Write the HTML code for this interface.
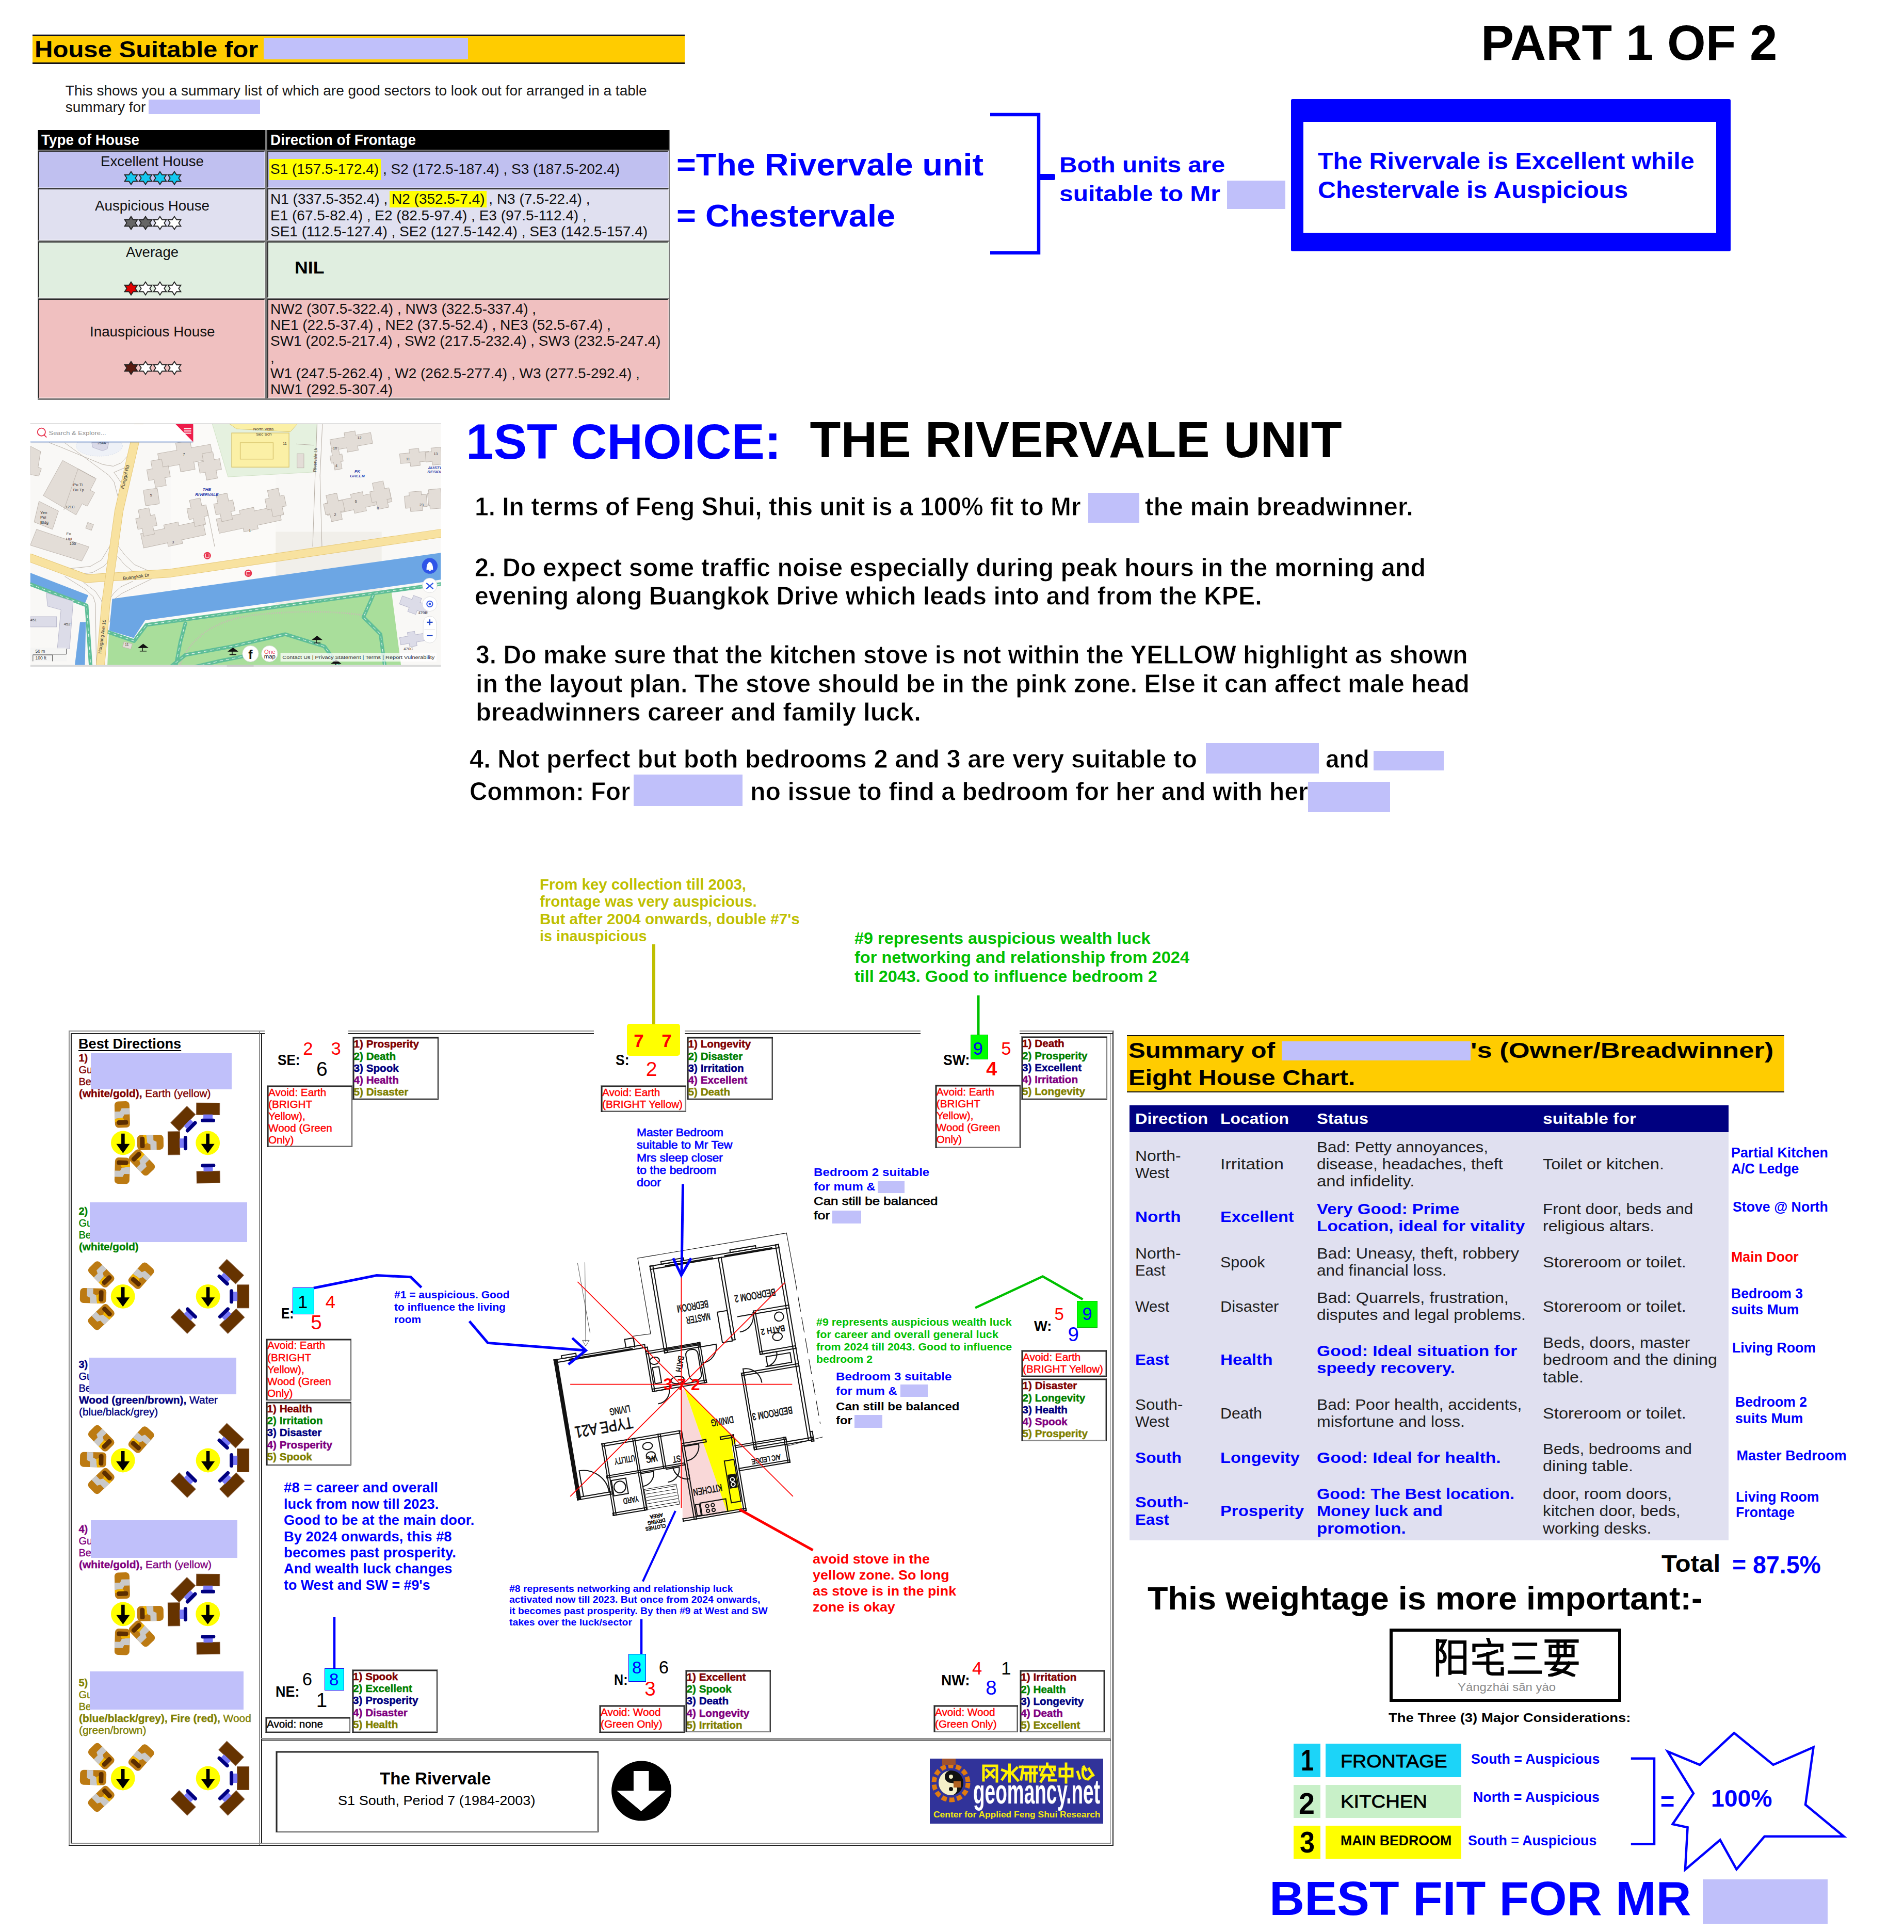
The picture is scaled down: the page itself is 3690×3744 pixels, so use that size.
<!DOCTYPE html>
<html><head><meta charset="utf-8"><title>Feng Shui Report</title><style>
*{margin:0;padding:0;box-sizing:border-box}
html,body{width:3690px;height:3744px;overflow:hidden;background:#fff}
body{position:relative;font-family:"Liberation Sans",sans-serif}
.t{position:absolute;white-space:nowrap}
.b{position:absolute}
</style></head><body>
<div class="b" style="left:62.5px;top:66.5px;width:1264.5px;height:57.8px;background:#FFCC00;border-top:3.5px solid #10101c;border-bottom:3.3px solid #10101c;"></div>
<div class="t" id="t0" style="left:67.3px;top:74.26px;font-size:44.7px;line-height:44.7px;color:#000;font-weight:bold;transform:scaleX(1.0978);transform-origin:0 0;">House Suitable for</div>
<div class="b" style="left:511px;top:73.5px;width:395.6px;height:41.5px;background:#C0C0FA;"></div>
<div class="t" id="t1" style="left:126.8px;top:162px;font-size:28px;line-height:28px;color:#1a1a1a;">This shows you a summary list of which are good sectors to look out for arranged in a table</div>
<div class="t" id="t2" style="left:126.8px;top:193.9px;font-size:28px;line-height:28px;color:#1a1a1a;">summary for</div>
<div class="b" style="left:287.9px;top:193px;width:215.8px;height:27.6px;background:#C0C0FA;"></div>
<div class="b" style="left:72.7px;top:251.6px;width:1225px;height:523.4px;background:#7a7a7a;"></div>
<div class="b" style="left:74.2px;top:252.2px;width:440.3px;height:37.4px;background:#000;"></div>
<div class="b" style="left:517.5px;top:252.2px;width:778.7px;height:37.4px;background:#000;"></div>
<div class="b" style="left:74.2px;top:292.2px;width:440.3px;height:71.4px;background:#C0C0F0;border-top:2px solid #2c2c2c;border-left:2px solid #2c2c2c;border-bottom:2.5px solid rgba(255,255,255,.35);border-right:2px solid rgba(255,255,255,.35);"></div>
<div class="b" style="left:517.5px;top:292.2px;width:778.7px;height:71.4px;background:#C0C0F0;border-top:2px solid #2c2c2c;border-left:2px solid #2c2c2c;border-bottom:2.5px solid rgba(255,255,255,.35);border-right:2px solid rgba(255,255,255,.35);"></div>
<div class="b" style="left:74.2px;top:365.4px;width:440.3px;height:101.1px;background:#E0E0F0;border-top:2px solid #2c2c2c;border-left:2px solid #2c2c2c;border-bottom:2.5px solid rgba(255,255,255,.35);border-right:2px solid rgba(255,255,255,.35);"></div>
<div class="b" style="left:517.5px;top:365.4px;width:778.7px;height:101.1px;background:#E0E0F0;border-top:2px solid #2c2c2c;border-left:2px solid #2c2c2c;border-bottom:2.5px solid rgba(255,255,255,.35);border-right:2px solid rgba(255,255,255,.35);"></div>
<div class="b" style="left:74.2px;top:468.3px;width:440.3px;height:109.2px;background:#E0EEE0;border-top:2px solid #2c2c2c;border-left:2px solid #2c2c2c;border-bottom:2.5px solid rgba(255,255,255,.35);border-right:2px solid rgba(255,255,255,.35);"></div>
<div class="b" style="left:517.5px;top:468.3px;width:778.7px;height:109.2px;background:#E0EEE0;border-top:2px solid #2c2c2c;border-left:2px solid #2c2c2c;border-bottom:2.5px solid rgba(255,255,255,.35);border-right:2px solid rgba(255,255,255,.35);"></div>
<div class="b" style="left:74.2px;top:579.3px;width:440.3px;height:193.2px;background:#F0C0C0;border-top:2px solid #2c2c2c;border-left:2px solid #2c2c2c;border-bottom:2.5px solid rgba(255,255,255,.35);border-right:2px solid rgba(255,255,255,.35);"></div>
<div class="b" style="left:517.5px;top:579.3px;width:778.7px;height:193.2px;background:#F0C0C0;border-top:2px solid #2c2c2c;border-left:2px solid #2c2c2c;border-bottom:2.5px solid rgba(255,255,255,.35);border-right:2px solid rgba(255,255,255,.35);"></div>
<div class="t" id="t3" style="left:80px;top:256.11px;font-size:30px;line-height:30px;color:#fff;font-weight:bold;transform:scaleX(0.9292);transform-origin:0 0;">Type of House</div>
<div class="t" id="t4" style="left:524px;top:256.11px;font-size:30px;line-height:30px;color:#fff;font-weight:bold;transform:scaleX(0.9296);transform-origin:0 0;">Direction of Frontage</div>
<div class="t" id="t5" style="left:195px;top:298.8px;font-size:28px;line-height:28px;color:#111;transform:scaleX(0.9884);transform-origin:0 0;">Excellent House</div>
<div class="t" id="t6" style="left:184px;top:385.3px;font-size:28px;line-height:28px;color:#111;transform:scaleX(0.9905);transform-origin:0 0;">Auspicious House</div>
<div class="t" id="t7" style="left:244px;top:474.8px;font-size:28px;line-height:28px;color:#111;transform:scaleX(0.9827);transform-origin:0 0;">Average</div>
<div class="t" id="t8" style="left:173.75px;top:628.8px;font-size:28px;line-height:28px;color:#111;transform:scaleX(0.9923);transform-origin:0 0;">Inauspicious House</div>
<svg class="b" style="left:230px;top:330px;transform:scaleX(1.0);" width="160" height="30" viewBox="0 0 160 30"><polygon points="24.00,2.50 28.15,8.75 36.45,8.75 32.29,15.00 36.45,21.25 28.15,21.25 24.00,27.50 19.85,21.25 11.55,21.25 15.71,15.00 11.55,8.75 19.85,8.75" fill="#14C8F0" stroke="#222" stroke-width="1.8" stroke-linejoin="miter"/><polygon points="52.00,2.50 56.15,8.75 64.45,8.75 60.29,15.00 64.45,21.25 56.15,21.25 52.00,27.50 47.85,21.25 39.55,21.25 43.71,15.00 39.55,8.75 47.85,8.75" fill="#14C8F0" stroke="#222" stroke-width="1.8" stroke-linejoin="miter"/><polygon points="80.00,2.50 84.15,8.75 92.45,8.75 88.29,15.00 92.45,21.25 84.15,21.25 80.00,27.50 75.85,21.25 67.55,21.25 71.71,15.00 67.55,8.75 75.85,8.75" fill="#14C8F0" stroke="#222" stroke-width="1.8" stroke-linejoin="miter"/><polygon points="108.00,2.50 112.15,8.75 120.45,8.75 116.29,15.00 120.45,21.25 112.15,21.25 108.00,27.50 103.85,21.25 95.55,21.25 99.71,15.00 95.55,8.75 103.85,8.75" fill="#14C8F0" stroke="#222" stroke-width="1.8" stroke-linejoin="miter"/></svg>
<svg class="b" style="left:230px;top:417px;transform:scaleX(1.0);" width="160" height="30" viewBox="0 0 160 30"><polygon points="24.00,2.50 28.15,8.75 36.45,8.75 32.29,15.00 36.45,21.25 28.15,21.25 24.00,27.50 19.85,21.25 11.55,21.25 15.71,15.00 11.55,8.75 19.85,8.75" fill="#666" stroke="#222" stroke-width="1.8" stroke-linejoin="miter"/><polygon points="52.00,2.50 56.15,8.75 64.45,8.75 60.29,15.00 64.45,21.25 56.15,21.25 52.00,27.50 47.85,21.25 39.55,21.25 43.71,15.00 39.55,8.75 47.85,8.75" fill="#666" stroke="#222" stroke-width="1.8" stroke-linejoin="miter"/><polygon points="80.00,2.50 84.15,8.75 92.45,8.75 88.29,15.00 92.45,21.25 84.15,21.25 80.00,27.50 75.85,21.25 67.55,21.25 71.71,15.00 67.55,8.75 75.85,8.75" fill="#fff" stroke="#222" stroke-width="1.8" stroke-linejoin="miter"/><polygon points="108.00,2.50 112.15,8.75 120.45,8.75 116.29,15.00 120.45,21.25 112.15,21.25 108.00,27.50 103.85,21.25 95.55,21.25 99.71,15.00 95.55,8.75 103.85,8.75" fill="#fff" stroke="#222" stroke-width="1.8" stroke-linejoin="miter"/></svg>
<svg class="b" style="left:230px;top:544px;transform:scaleX(1.0);" width="160" height="30" viewBox="0 0 160 30"><polygon points="24.00,2.50 28.15,8.75 36.45,8.75 32.29,15.00 36.45,21.25 28.15,21.25 24.00,27.50 19.85,21.25 11.55,21.25 15.71,15.00 11.55,8.75 19.85,8.75" fill="#E00000" stroke="#222" stroke-width="1.8" stroke-linejoin="miter"/><polygon points="52.00,2.50 56.15,8.75 64.45,8.75 60.29,15.00 64.45,21.25 56.15,21.25 52.00,27.50 47.85,21.25 39.55,21.25 43.71,15.00 39.55,8.75 47.85,8.75" fill="#fff" stroke="#222" stroke-width="1.8" stroke-linejoin="miter"/><polygon points="80.00,2.50 84.15,8.75 92.45,8.75 88.29,15.00 92.45,21.25 84.15,21.25 80.00,27.50 75.85,21.25 67.55,21.25 71.71,15.00 67.55,8.75 75.85,8.75" fill="#fff" stroke="#222" stroke-width="1.8" stroke-linejoin="miter"/><polygon points="108.00,2.50 112.15,8.75 120.45,8.75 116.29,15.00 120.45,21.25 112.15,21.25 108.00,27.50 103.85,21.25 95.55,21.25 99.71,15.00 95.55,8.75 103.85,8.75" fill="#fff" stroke="#222" stroke-width="1.8" stroke-linejoin="miter"/></svg>
<svg class="b" style="left:230px;top:698px;transform:scaleX(1.0);" width="160" height="30" viewBox="0 0 160 30"><polygon points="24.00,2.50 28.15,8.75 36.45,8.75 32.29,15.00 36.45,21.25 28.15,21.25 24.00,27.50 19.85,21.25 11.55,21.25 15.71,15.00 11.55,8.75 19.85,8.75" fill="#5a1a10" stroke="#222" stroke-width="1.8" stroke-linejoin="miter"/><polygon points="52.00,2.50 56.15,8.75 64.45,8.75 60.29,15.00 64.45,21.25 56.15,21.25 52.00,27.50 47.85,21.25 39.55,21.25 43.71,15.00 39.55,8.75 47.85,8.75" fill="#fff" stroke="#222" stroke-width="1.8" stroke-linejoin="miter"/><polygon points="80.00,2.50 84.15,8.75 92.45,8.75 88.29,15.00 92.45,21.25 84.15,21.25 80.00,27.50 75.85,21.25 67.55,21.25 71.71,15.00 67.55,8.75 75.85,8.75" fill="#fff" stroke="#222" stroke-width="1.8" stroke-linejoin="miter"/><polygon points="108.00,2.50 112.15,8.75 120.45,8.75 116.29,15.00 120.45,21.25 112.15,21.25 108.00,27.50 103.85,21.25 95.55,21.25 99.71,15.00 95.55,8.75 103.85,8.75" fill="#fff" stroke="#222" stroke-width="1.8" stroke-linejoin="miter"/></svg>
<div class="b" style="left:522px;top:307.5px;width:216px;height:41.5px;background:#FFFF00;"></div>
<div class="b" style="left:755px;top:370px;width:187.5px;height:31.5px;background:#FFFF00;"></div>
<div class="t" id="t9" style="left:524px;top:313.8px;font-size:28px;line-height:28px;color:#111;">S1 (157.5-172.4) , S2 (172.5-187.4) , S3 (187.5-202.4)</div>
<div class="t" id="t10" style="left:524px;top:372.3px;font-size:28px;line-height:28px;color:#111;">N1 (337.5-352.4) , N2 (352.5-7.4) , N3 (7.5-22.4) ,</div>
<div class="t" id="t11" style="left:524px;top:403.8px;font-size:28px;line-height:28px;color:#111;">E1 (67.5-82.4) , E2 (82.5-97.4) , E3 (97.5-112.4) ,</div>
<div class="t" id="t12" style="left:524px;top:434.8px;font-size:28px;line-height:28px;color:#111;">SE1 (112.5-127.4) , SE2 (127.5-142.4) , SE3 (142.5-157.4)</div>
<div class="t" id="t13" style="left:571px;top:501.22px;font-size:34px;line-height:34px;color:#000;font-weight:bold;transform:scaleX(1.0496);transform-origin:0 0;">NIL</div>
<div class="t" id="t14" style="left:524px;top:585.3px;font-size:28px;line-height:28px;color:#111;">NW2 (307.5-322.4) , NW3 (322.5-337.4) ,</div>
<div class="t" id="t15" style="left:524px;top:616.3px;font-size:28px;line-height:28px;color:#111;">NE1 (22.5-37.4) , NE2 (37.5-52.4) , NE3 (52.5-67.4) ,</div>
<div class="t" id="t16" style="left:524px;top:647.3px;font-size:28px;line-height:28px;color:#111;">SW1 (202.5-217.4) , SW2 (217.5-232.4) , SW3 (232.5-247.4)</div>
<div class="t" id="t17" style="left:524px;top:678.8px;font-size:28px;line-height:28px;color:#111;">,</div>
<div class="t" id="t18" style="left:524px;top:710.3px;font-size:28px;line-height:28px;color:#111;">W1 (247.5-262.4) , W2 (262.5-277.4) , W3 (277.5-292.4) ,</div>
<div class="t" id="t19" style="left:524px;top:741.3px;font-size:28px;line-height:28px;color:#111;transform:scaleX(0.9953);transform-origin:0 0;">NW1 (292.5-307.4)</div>
<div class="t" id="t20" style="left:1311px;top:289.06px;font-size:61px;line-height:61px;color:#0000FF;font-weight:bold;transform:scaleX(1.0605);transform-origin:0 0;">=The Rivervale unit</div>
<div class="t" id="t21" style="left:1311px;top:387.96px;font-size:61px;line-height:61px;color:#0000FF;font-weight:bold;transform:scaleX(1.0642);transform-origin:0 0;">= Chestervale</div>
<svg class="b" style="left:1900px;top:210px;" width="160" height="300" viewBox="0 0 160 300"><polyline points="19,12 113,12 113,280 19,280" fill="none" stroke="#0000FF" stroke-width="6.5"/><rect x="113" y="127" width="32" height="12" rx="3" fill="#0000FF"/></svg>
<div class="t" id="t22" style="left:2053px;top:297.6px;font-size:43px;line-height:43px;color:#0000FF;font-weight:bold;transform:scaleX(1.1104);transform-origin:0 0;">Both units are</div>
<div class="t" id="t23" style="left:2053px;top:353.6px;font-size:43px;line-height:43px;color:#0000FF;font-weight:bold;transform:scaleX(1.1162);transform-origin:0 0;">suitable to Mr</div>
<div class="b" style="left:2377.5px;top:350px;width:113.5px;height:55px;background:#C0C0FA;"></div>
<div class="t" id="t24" style="left:2870px;top:33.89px;font-size:97px;line-height:97px;color:#000;font-weight:bold;transform:scaleX(0.9900);transform-origin:0 0;">PART 1 OF 2</div>
<div class="b" style="left:2502px;top:192px;width:852px;height:295px;background:#0000FF;border-radius:3px;"></div>
<div class="b" style="left:2526px;top:235.7px;width:800px;height:215.3px;background:#fff;"></div>
<div class="t" id="t25" style="left:2554px;top:288.66px;font-size:46px;line-height:46px;color:#0000FF;font-weight:bold;transform:scaleX(1.0530);transform-origin:0 0;">The Rivervale is Excellent while</div>
<div class="t" id="t26" style="left:2554px;top:345.06px;font-size:46px;line-height:46px;color:#0000FF;font-weight:bold;transform:scaleX(1.0531);transform-origin:0 0;">Chestervale is Auspicious</div>
<div class="t" id="t27" style="left:903px;top:807.74px;font-size:96px;line-height:96px;color:#0000FF;font-weight:bold;transform:scaleX(1.0048);transform-origin:0 0;">1ST CHOICE:</div>
<div class="t" id="t28" style="left:1569.6px;top:803.04px;font-size:98px;line-height:98px;color:#000;font-weight:bold;">THE RIVERVALE UNIT</div>
<div class="t" id="t29" style="left:920px;top:957.27px;font-size:50px;line-height:50px;color:#000;font-weight:bold;transform:scaleX(0.9588);transform-origin:0 0;-webkit-text-stroke:0.8px #fff;">1. In terms of Feng Shui, this unit is a 100% fit to Mr</div>
<div class="b" style="left:2108.5px;top:955px;width:99.8px;height:58.4px;background:#C0C0FA;"></div>
<div class="t" id="t30" style="left:2218.8px;top:957.27px;font-size:50px;line-height:50px;color:#000;font-weight:bold;transform:scaleX(0.9850);transform-origin:0 0;-webkit-text-stroke:0.8px #fff;">the main breadwinner.</div>
<div class="t" id="t31" style="left:920.3px;top:1074.67px;font-size:50px;line-height:50px;color:#000;font-weight:bold;transform:scaleX(0.9684);transform-origin:0 0;-webkit-text-stroke:0.8px #fff;">2. Do expect some traffic noise especially during peak hours in the morning and</div>
<div class="t" id="t32" style="left:920.3px;top:1130.17px;font-size:50px;line-height:50px;color:#000;font-weight:bold;transform:scaleX(0.9651);transform-origin:0 0;-webkit-text-stroke:0.8px #fff;">evening along Buangkok Drive which leads into and from the KPE.</div>
<div class="t" id="t33" style="left:922px;top:1243.67px;font-size:50px;line-height:50px;color:#000;font-weight:bold;transform:scaleX(0.9617);transform-origin:0 0;-webkit-text-stroke:0.8px #fff;">3. Do make sure that the kitchen stove is not within the YELLOW highlight as shown</div>
<div class="t" id="t34" style="left:922px;top:1299.67px;font-size:50px;line-height:50px;color:#000;font-weight:bold;transform:scaleX(0.9655);transform-origin:0 0;-webkit-text-stroke:0.8px #fff;">in the layout plan. The stove should be in the pink zone. Else it can affect male head</div>
<div class="t" id="t35" style="left:922px;top:1355.17px;font-size:50px;line-height:50px;color:#000;font-weight:bold;transform:scaleX(0.9827);transform-origin:0 0;-webkit-text-stroke:0.8px #fff;">breadwinners career and family luck.</div>
<div class="t" id="t36" style="left:909.7px;top:1445.67px;font-size:50px;line-height:50px;color:#000;font-weight:bold;transform:scaleX(0.9760);transform-origin:0 0;-webkit-text-stroke:0.8px #fff;">4. Not perfect but both bedrooms 2 and 3 are very suitable to</div>
<div class="b" style="left:2336.6px;top:1440px;width:219.4px;height:58.7px;background:#C0C0FA;"></div>
<div class="t" id="t37" style="left:2569px;top:1445.67px;font-size:50px;line-height:50px;color:#000;font-weight:bold;transform:scaleX(0.9561);transform-origin:0 0;-webkit-text-stroke:0.8px #fff;">and</div>
<div class="b" style="left:2662px;top:1455px;width:136px;height:38px;background:#C0C0FA;"></div>
<div class="t" id="t38" style="left:910px;top:1509.38px;font-size:50px;line-height:50px;color:#000;font-weight:bold;transform:scaleX(0.9508);transform-origin:0 0;-webkit-text-stroke:0.8px #fff;">Common: For</div>
<div class="b" style="left:1228px;top:1500.8px;width:211px;height:61.2px;background:#C0C0FA;"></div>
<div class="t" id="t39" style="left:1454px;top:1509.38px;font-size:50px;line-height:50px;color:#000;font-weight:bold;transform:scaleX(0.9656);transform-origin:0 0;-webkit-text-stroke:0.8px #fff;">no issue to find a bedroom for her and with her</div>
<div class="b" style="left:2535px;top:1514.6px;width:159px;height:59.4px;background:#C0C0FA;"></div>
<svg class="b" style="left:0px;top:780px" width="900" height="540" viewBox="0 0 1904 1142.4"><defs><clipPath id="mc"><rect x="124" y="87" width="1684" height="996"/></clipPath></defs><g clip-path="url(#mc)" font-family="Liberation Sans, sans-serif"><rect x="124" y="87" width="1684" height="996" fill="#F9F8F6"/><rect x="1130" y="530" width="435" height="553" fill="#F1EFEA"/><rect x="700" y="87" width="430" height="996" fill="#FBFAF8"/><polygon points="870,87 1300,87 1290,285 935,305" fill="#E5F1DF" stroke="#CFE0C5" stroke-width="2"/><rect x="950" y="125" width="235" height="140" fill="#FBF0A6" stroke="#D9C56E" stroke-width="3"/><rect x="985" y="165" width="135" height="67" fill="none" stroke="#D9C56E" stroke-width="3"/><polygon points="940,87 1220,87 1190,120 970,108" fill="#FBF0A6" stroke="#D9C56E" stroke-width="2"/><rect x="1218" y="210" width="28" height="58" fill="#E3DDD7" stroke="#BDB5AD" stroke-width="2"/><polyline points="1300,87 1292,300 1282,590" fill="none" stroke="#B5ACA3" stroke-width="2" stroke-linejoin="round" stroke-linecap="round" /><polyline points="1322,87 1312,300 1320,590" fill="none" stroke="#B5ACA3" stroke-width="2" stroke-linejoin="round" stroke-linecap="round" /><ellipse cx="407" cy="178" rx="95" ry="42" fill="#EEF1F7" stroke="#D5DCEA" stroke-width="2" stroke-dasharray="5 4"/><polygon points="376,164 446,164 440,190 420,198 380,184" fill="#D9D9E8" stroke="#B8B8CC" stroke-width="2"/><polyline points="201.8,164.6 247.8,182.4 421.8,254.3 464.6,261.3 495.2,248.2 525.8,216" fill="none" stroke="#B5ACA3" stroke-width="2" stroke-linejoin="round" stroke-linecap="round" /><polyline points="266,165.6 446.4,298.5 467.8,326 483,384" fill="none" stroke="#B5ACA3" stroke-width="2" stroke-linejoin="round" stroke-linecap="round" /><polyline points="467.8,286.2 510.5,268" fill="none" stroke="#B5ACA3" stroke-width="2" stroke-linejoin="round" stroke-linecap="round" /><polyline points="467.8,286.2 496.7,329" fill="none" stroke="#B5ACA3" stroke-width="2" stroke-linejoin="round" stroke-linecap="round" /><polyline points="275.2,682.1 370,671.9 415.7,645.9 452.5,584.7" fill="none" stroke="#B5ACA3" stroke-width="2" stroke-linejoin="round" stroke-linecap="round" /><polyline points="330.2,703.4 379.1,697.3 425,671.9 443.2,652" fill="none" stroke="#B5ACA3" stroke-width="2" stroke-linejoin="round" stroke-linecap="round" /><polyline points="480,583.3 513.7,627.5 550.3,664.3 620.5,694.8" fill="none" stroke="#B5ACA3" stroke-width="2" stroke-linejoin="round" stroke-linecap="round" /><polyline points="476.9,624.5 510.5,664.3 544.1,691.8 568.5,699.4" fill="none" stroke="#B5ACA3" stroke-width="2" stroke-linejoin="round" stroke-linecap="round" /><polyline points="266.1,713.2 348.7,765 382.1,795.7 391.4,825.1 395,1083" fill="none" stroke="#B5ACA3" stroke-width="2" stroke-linejoin="round" stroke-linecap="round" /><polyline points="342.5,737.5 391.4,774.3 415.7,810.9 418.9,825.1" fill="none" stroke="#B5ACA3" stroke-width="2" stroke-linejoin="round" stroke-linecap="round" /><polyline points="620.5,723.7 498.2,783.4 470.7,804.8 464.6,825.1 450,900" fill="none" stroke="#B5ACA3" stroke-width="2" stroke-linejoin="round" stroke-linecap="round" /><polyline points="544.1,733 495.2,755.9 467.8,780.4 452.5,801.8" fill="none" stroke="#B5ACA3" stroke-width="2" stroke-linejoin="round" stroke-linecap="round" /><polyline points="790,470 850,440 880,590" fill="none" stroke="#B5ACA3" stroke-width="2" stroke-linejoin="round" stroke-linecap="round" /><polyline points="1215,170 1285,175" fill="none" stroke="#B5ACA3" stroke-width="2" stroke-linejoin="round" stroke-linecap="round" /><polygon points="460,805 1808,616 1808,726 595,893 548,965 448,935" fill="#6CA6E4"/><polygon points="124,698 362,790 345,832 124,748" fill="#6CA6E4"/><polygon points="328,900 352,900 348,1083 306,1083" fill="#6CA6E4"/><polygon points="548,972 602,910 1605,775 1645,1083 440,1083 446,945" fill="#A9DE9B"/><path d="M735 1083 Q800 900 1050 870 Q1300 845 1490 872" fill="none" stroke="#C9B9B5" stroke-width="7" stroke-dasharray="3 5"/><polyline points="440,940 550,978 600,912 1808,744" fill="none" stroke="#5FBE98" stroke-width="15" stroke-linejoin="round" stroke-linecap="round" /><polyline points="440,940 550,978 600,912 1808,744" fill="none" stroke="#fff" stroke-width="2" stroke-linejoin="round" stroke-linecap="round" stroke-dasharray="12 14"/><polyline points="124,745 355,832 372,1083" fill="none" stroke="#5FBE98" stroke-width="15" stroke-linejoin="round" stroke-linecap="round" /><polyline points="124,745 355,832 372,1083" fill="none" stroke="#fff" stroke-width="2" stroke-linejoin="round" stroke-linecap="round" stroke-dasharray="12 14"/><polyline points="760,905 740,980 720,1083" fill="none" stroke="#5FBE98" stroke-width="15" stroke-linejoin="round" stroke-linecap="round" /><polyline points="760,905 740,980 720,1083" fill="none" stroke="#fff" stroke-width="2" stroke-linejoin="round" stroke-linecap="round" stroke-dasharray="12 14"/><polyline points="700,1083 760,1035 950,1000 1170,950 1330,1000 1390,1083" fill="none" stroke="#5FBE98" stroke-width="15" stroke-linejoin="round" stroke-linecap="round" /><polyline points="700,1083 760,1035 950,1000 1170,950 1330,1000 1390,1083" fill="none" stroke="#fff" stroke-width="2" stroke-linejoin="round" stroke-linecap="round" stroke-dasharray="12 14"/><polyline points="1530,790 1490,880 1560,950 1578,1083" fill="none" stroke="#5FBE98" stroke-width="15" stroke-linejoin="round" stroke-linecap="round" /><polyline points="1530,790 1490,880 1560,950 1578,1083" fill="none" stroke="#fff" stroke-width="2" stroke-linejoin="round" stroke-linecap="round" stroke-dasharray="12 14"/><polyline points="800,1083 900,1060 1000,1040" fill="none" stroke="#5FBE98" stroke-width="15" stroke-linejoin="round" stroke-linecap="round" /><polyline points="800,1083 900,1060 1000,1040" fill="none" stroke="#fff" stroke-width="2" stroke-linejoin="round" stroke-linecap="round" stroke-dasharray="12 14"/><polyline points="124,637 355,722 698,699.5 1808,536" fill="none" stroke="#E6C878" stroke-width="35" stroke-linejoin="round" stroke-linecap="round" /><polyline points="124,637 355,722 698,699.5 1808,536" fill="none" stroke="#F8E2A0" stroke-width="31" stroke-linejoin="round" stroke-linecap="round" /><polyline points="570,87 552,165 487.7,444 434,825 411,1083" fill="none" stroke="#E6C878" stroke-width="36" stroke-linejoin="round" stroke-linecap="round" /><polyline points="570,87 552,165 487.7,444 434,825 411,1083" fill="none" stroke="#F8E2A0" stroke-width="32" stroke-linejoin="round" stroke-linecap="round" /><polygon points="256.8,237.4 394.4,312.3 370,359.7 388.2,368.8 357.7,425.3 336.4,415.1 311.8,460.8 177.5,381.4" fill="#E3DDD7" stroke="#BDB5AD" stroke-width="2"/><polyline points="320,272 262,440" fill="none" stroke="#BDB5AD" stroke-width="2" stroke-linejoin="round" stroke-linecap="round" /><polyline points="320,272 390,310" fill="none" stroke="#BDB5AD" stroke-width="3" stroke-linejoin="round" stroke-linecap="round" /><polygon points="160,405 240,445 215,520 140,490" fill="#E3DDD7" stroke="#BDB5AD" stroke-width="2"/><polygon points="150,520 365,592 335,650 124,585" fill="#E3DDD7" stroke="#BDB5AD" stroke-width="2"/><polygon points="124.8,179.4 166.7,200.8 156.1,264.9 169.9,271 159.1,301.5 124.8,295.6" fill="#E3DDD7" stroke="#BDB5AD" stroke-width="2"/><rect x="355" y="495" width="25" height="25" fill="#E3DDD7" stroke="#BDB5AD" stroke-width="2" transform="rotate(20 367 507)"/><polygon points="190,780 300,815 285,1010 235,1010 250,850 195,835" fill="#DCDCE8" stroke="#B8B8CC" stroke-width="2"/><rect x="124" y="878" width="108" height="42" fill="#DCDCE8" stroke="#B8B8CC" stroke-width="2"/><rect x="505" y="985" width="35" height="22" fill="#E3DDD7" stroke="#BDB5AD" stroke-width="2" transform="rotate(15 522 996)"/><g transform="translate(760,220) rotate(-10)" fill="#E3DDD7" stroke="#BDB5AD" stroke-width="2"><rect x="-110.0" y="-30.0" width="220" height="60"/><rect x="-30.0" y="-60.0" width="60" height="120"/><rect x="-107.0" y="-28.0" width="214" height="56" stroke="none"/></g><g transform="translate(650,290) rotate(-10)" fill="#E3DDD7" stroke="#BDB5AD" stroke-width="2"><rect x="-45.0" y="-22.5" width="90" height="45"/><rect x="-22.5" y="-55.0" width="45" height="110"/><rect x="-42.0" y="-20.5" width="84" height="41" stroke="none"/></g><g transform="translate(860,260) rotate(-10)" fill="#E3DDD7" stroke="#BDB5AD" stroke-width="2"><rect x="-45.0" y="-22.5" width="90" height="45"/><rect x="-22.5" y="-55.0" width="45" height="110"/><rect x="-42.0" y="-20.5" width="84" height="41" stroke="none"/></g><rect x="592" y="355" width="58" height="65" rx="6" fill="#E3DDD7" stroke="#BDB5AD" stroke-width="2" transform="rotate(-8 620 388)"/><g transform="translate(710,540) rotate(-12)" fill="#E3DDD7" stroke="#BDB5AD" stroke-width="2"><rect x="-130.0" y="-30.0" width="260" height="60"/><rect x="-30.0" y="-45.0" width="60" height="90"/><rect x="-127.0" y="-28.0" width="254" height="56" stroke="none"/></g><g transform="translate(600,490) rotate(-12)" fill="#E3DDD7" stroke="#BDB5AD" stroke-width="2"><rect x="-40.0" y="-22.5" width="80" height="45"/><rect x="-22.5" y="-55.0" width="45" height="110"/><rect x="-37.0" y="-20.5" width="74" height="41" stroke="none"/></g><g transform="translate(810,450) rotate(-12)" fill="#E3DDD7" stroke="#BDB5AD" stroke-width="2"><rect x="-40.0" y="-22.5" width="80" height="45"/><rect x="-22.5" y="-55.0" width="45" height="110"/><rect x="-37.0" y="-20.5" width="74" height="41" stroke="none"/></g><g transform="translate(1020,480) rotate(-12)" fill="#E3DDD7" stroke="#BDB5AD" stroke-width="2"><rect x="-130.0" y="-30.0" width="260" height="60"/><rect x="-30.0" y="-45.0" width="60" height="90"/><rect x="-127.0" y="-28.0" width="254" height="56" stroke="none"/></g><g transform="translate(920,430) rotate(-12)" fill="#E3DDD7" stroke="#BDB5AD" stroke-width="2"><rect x="-40.0" y="-22.5" width="80" height="45"/><rect x="-22.5" y="-55.0" width="45" height="110"/><rect x="-37.0" y="-20.5" width="74" height="41" stroke="none"/></g><g transform="translate(1130,410) rotate(-12)" fill="#E3DDD7" stroke="#BDB5AD" stroke-width="2"><rect x="-40.0" y="-22.5" width="80" height="45"/><rect x="-22.5" y="-55.0" width="45" height="110"/><rect x="-37.0" y="-20.5" width="74" height="41" stroke="none"/></g><g transform="translate(1440,160) rotate(-10)" fill="#E3DDD7" stroke="#BDB5AD" stroke-width="2"><rect x="-85.0" y="-22.5" width="170" height="45"/><rect x="-22.5" y="-40.0" width="45" height="80"/><rect x="-82.0" y="-20.5" width="164" height="41" stroke="none"/></g><g transform="translate(1380,230) rotate(-10)" fill="#E3DDD7" stroke="#BDB5AD" stroke-width="2"><rect x="-25.0" y="-15.0" width="50" height="30"/><rect x="-15.0" y="-45.0" width="30" height="90"/><rect x="-22.0" y="-13.0" width="44" height="26" stroke="none"/></g><g transform="translate(1700,225) rotate(-5)" fill="#E3DDD7" stroke="#BDB5AD" stroke-width="2"><rect x="-60.0" y="-20.0" width="120" height="40"/><rect x="-20.0" y="-35.0" width="40" height="70"/><rect x="-57.0" y="-18.0" width="114" height="36" stroke="none"/></g><g transform="translate(1790,220) rotate(-5)" fill="#E3DDD7" stroke="#BDB5AD" stroke-width="2"><rect x="-45.0" y="-20.0" width="90" height="40"/><rect x="-20.0" y="-35.0" width="40" height="70"/><rect x="-42.0" y="-18.0" width="84" height="36" stroke="none"/></g><g transform="translate(1470,410) rotate(-12)" fill="#E3DDD7" stroke="#BDB5AD" stroke-width="2"><rect x="-135.0" y="-25.0" width="270" height="50"/><rect x="-25.0" y="-40.0" width="50" height="80"/><rect x="-132.0" y="-23.0" width="264" height="46" stroke="none"/></g><g transform="translate(1370,430) rotate(-12)" fill="#E3DDD7" stroke="#BDB5AD" stroke-width="2"><rect x="-40.0" y="-22.5" width="80" height="45"/><rect x="-22.5" y="-55.0" width="45" height="110"/><rect x="-37.0" y="-20.5" width="74" height="41" stroke="none"/></g><g transform="translate(1560,380) rotate(-12)" fill="#E3DDD7" stroke="#BDB5AD" stroke-width="2"><rect x="-40.0" y="-22.5" width="80" height="45"/><rect x="-22.5" y="-55.0" width="45" height="110"/><rect x="-37.0" y="-20.5" width="74" height="41" stroke="none"/></g><g transform="translate(1705,405) rotate(-5)" fill="#E3DDD7" stroke="#BDB5AD" stroke-width="2"><rect x="-45.0" y="-25.0" width="90" height="50"/><rect x="-25.0" y="-40.0" width="50" height="80"/><rect x="-42.0" y="-23.0" width="84" height="46" stroke="none"/></g><g transform="translate(1785,395) rotate(-5)" fill="#E3DDD7" stroke="#BDB5AD" stroke-width="2"><rect x="-30.0" y="-25.0" width="60" height="50"/><rect x="-25.0" y="-40.0" width="50" height="80"/><rect x="-27.0" y="-23.0" width="54" height="46" stroke="none"/></g><g opacity="1"><g transform="translate(1700,830) rotate(20)" fill="#DCDCE8" stroke="#B8B8CC" stroke-width="2"><rect x="-60.0" y="-17.5" width="120" height="35"/><rect x="-17.5" y="-35.0" width="35" height="70"/><rect x="-57.0" y="-15.5" width="114" height="31" stroke="none"/></g><g transform="translate(1690,970) rotate(-10)" fill="#DCDCE8" stroke="#B8B8CC" stroke-width="2"><rect x="-50.0" y="-15.0" width="100" height="30"/><rect x="-15.0" y="-30.0" width="30" height="60"/><rect x="-47.0" y="-13.0" width="94" height="26" stroke="none"/></g></g><text x="848" y="362" font-size="17" fill="#2B3BAA" font-style="italic" font-weight="bold" text-anchor="middle">THE</text><text x="848" y="382" font-size="17" fill="#2B3BAA" font-style="italic" font-weight="bold" text-anchor="middle">RIVERVALE</text><text x="1465" y="288" font-size="17" fill="#2B3BAA" font-style="italic" font-weight="bold" text-anchor="middle">PK</text><text x="1465" y="306" font-size="17" fill="#2B3BAA" font-style="italic" font-weight="bold" text-anchor="middle">GREEN</text><text x="1755" y="272" font-size="17" fill="#2B3BAA" font-style="italic" font-weight="bold">AUSTV</text><text x="1752" y="290" font-size="17" fill="#2B3BAA" font-style="italic" font-weight="bold">RESIDE</text><text x="1080" y="115" font-size="17" fill="#333" text-anchor="middle">North Vista</text><text x="1082" y="135" font-size="17" fill="#333" text-anchor="middle">Sec Sch</text><text x="508" y="355" font-size="19" fill="#333" transform="rotate(-77 508 355)" >Punggol Rd</text><text x="505" y="728" font-size="19" fill="#333" transform="rotate(-8 505 728)" >Buangkok Dr</text><text x="415" y="1030" font-size="19" fill="#333" transform="rotate(-82 415 1030)" >Hougang Ave 10</text><text x="1297" y="285" font-size="18" fill="#333" transform="rotate(-88 1297 285)" >Rivervale Lk</text><text x="300" y="343" font-size="17" fill="#333" >Pu Ti</text><text x="300" y="363" font-size="17" fill="#333" >Bu Tp</text><text x="268" y="433" font-size="16" fill="#333" >121C</text><text x="165" y="457" font-size="17" fill="#333" >Yen</text><text x="165" y="477" font-size="17" fill="#333" >Pei</text><text x="165" y="497" font-size="17" fill="#333" >Bldg</text><text x="272" y="544" font-size="17" fill="#333" >Fo</text><text x="270" y="564" font-size="17" fill="#333" >Hui</text><text x="285" y="583" font-size="16" fill="#333" >105</text><text x="400" y="172" font-size="15" fill="#333" >264A</text><text x="262" y="913" font-size="16" fill="#333" >452</text><text x="124" y="897" font-size="16" fill="#333" >451</text><text x="512" y="997" font-size="15" fill="#333" >11</text><text x="1715" y="868" font-size="16" fill="#333" >470B</text><text x="1655" y="1015" font-size="16" fill="#333" >470C</text><text x="750" y="217" font-size="15" fill="#333" >7</text><text x="615" y="386" font-size="15" fill="#333" >5</text><text x="705" y="578" font-size="15" fill="#333" >3</text><text x="1020" y="530" font-size="15" fill="#333" >1</text><text x="1465" y="150" font-size="15" fill="#333" >12</text><text x="1365" y="193" font-size="15" fill="#333" >10</text><text x="1375" y="265" font-size="15" fill="#333" >4</text><text x="1160" y="173" font-size="15" fill="#333" >11</text><text x="1665" y="236" font-size="15" fill="#333" >11</text><text x="1778" y="215" font-size="15" fill="#333" >13</text><text x="1455" y="410" font-size="15" fill="#333" >6</text><text x="1545" y="438" font-size="15" fill="#333" >8</text><text x="1370" y="465" font-size="15" fill="#333" >2</text><text x="1720" y="426" font-size="15" fill="#333" >23</text><circle cx="850" cy="628" r="15" fill="#E8344E"/><circle cx="1018" cy="700" r="15" fill="#E8344E"/><rect x="843" y="621" width="14" height="14" fill="none" stroke="#fff" stroke-width="2"/><rect x="1011" y="693" width="14" height="14" fill="none" stroke="#fff" stroke-width="2"/><path d="M569 1005 L587 991 L605 1005 Z M584 1005 V1019 M573 1019 H601" fill="#111" stroke="#111" stroke-width="3"/><path d="M937 1020 L955 1006 L973 1020 Z M952 1020 V1034 M941 1034 H969" fill="#111" stroke="#111" stroke-width="3"/><path d="M1282 972 L1300 958 L1318 972 Z M1297 972 V986 M1286 986 H1314" fill="#111" stroke="#111" stroke-width="3"/><path d="M1360 1070 L1378 1056 L1396 1070 Z M1375 1070 V1084 M1364 1084 H1392" fill="#111" stroke="#111" stroke-width="3"/><rect x="124" y="1005" width="150" height="55" fill="#F4F4F4" opacity=".8"/><polyline points="135,1032 272,1032 272,1010" fill="none" stroke="#444" stroke-width="2" stroke-linejoin="round" stroke-linecap="round" /><polyline points="135,1060 135,1035 215,1035 215,1060" fill="none" stroke="#444" stroke-width="2" stroke-linejoin="round" stroke-linecap="round" /><text x="145" y="1026" font-size="18" fill="#333" >50 m</text><text x="145" y="1054" font-size="18" fill="#333" >100 ft</text><rect x="1150" y="1026" width="640" height="36" fill="#fff" opacity=".75"/><text x="1158" y="1051" font-size="20.5" fill="#333" textLength="624" lengthAdjust="spacingAndGlyphs">Contact Us | Privacy Statement | Terms | Report Vulnerability</text><circle cx="1027" cy="1030" r="33" fill="#fff" stroke="#ddd" stroke-width="2"/><text x="1027" y="1052" font-size="52" fill="#111" font-weight="bold" text-anchor="middle">f</text><circle cx="1105" cy="1030" r="33" fill="#fff" stroke="#ddd" stroke-width="2"/><text x="1106" y="1030" font-size="24" fill="#E8344E" text-anchor="middle">One</text><text x="1106" y="1050" font-size="24" fill="#111" text-anchor="middle">map</text><circle cx="1762" cy="670" r="32" fill="#2F55E8"/><path d="M1750 684 Q1750 660 1762 655 Q1774 660 1774 684 Z M1758 688 h8" fill="#fff" stroke="#fff" stroke-width="3"/><circle cx="1762" cy="750" r="30" fill="#fff" stroke="#ddd" stroke-width="2"/><path d="M1748 740 L1776 764 M1776 740 L1748 764" stroke="#2F55E8" stroke-width="5"/><circle cx="1762" cy="826" r="30" fill="#fff" stroke="#ddd" stroke-width="2"/><circle cx="1762" cy="826" r="12" fill="none" stroke="#2F55E8" stroke-width="4"/><circle cx="1762" cy="826" r="5" fill="#2F55E8"/><rect x="1735" y="876" width="54" height="110" rx="27" fill="#fff" stroke="#ddd" stroke-width="2"/><path d="M1750 901 H1774 M1762 889 V913 M1750 956 H1774" stroke="#1E44C8" stroke-width="5"/><line x1="1740" y1="931" x2="1784" y2="931" stroke="#ddd" stroke-width="2"/><rect x="124" y="89" width="666" height="74" fill="#000" opacity=".06" transform="translate(4 4)"/><rect x="124" y="89" width="666" height="74" fill="#fff"/><line x1="124" y1="162" x2="790" y2="162" stroke="#4A78C8" stroke-width="3"/><circle cx="170" cy="121" r="16" fill="none" stroke="#E8344E" stroke-width="4"/><line x1="181" y1="133" x2="191" y2="143" stroke="#E8344E" stroke-width="4"/><text x="200" y="133" font-size="23" fill="#8E8E8E" textLength="235" lengthAdjust="spacingAndGlyphs">Search &amp; Explore...</text><polygon points="720,89 792,89 792,162" fill="#EE1C4A"/><path d="M754 108 H784 M754 117 H784 M754 126 H784" stroke="#fff" stroke-width="4"/><rect x="124" y="1076" width="1684" height="8" fill="#DADADA"/><rect x="930" y="1076" width="110" height="8" fill="#C8C8C8"/></g><line x1="124" y1="87" x2="1808" y2="87" stroke="#C8C8C8" stroke-width="3"/></svg>
<div class="b" style="left:132.5px;top:1997px;width:2px;height:1580px;background:#909090;"></div>
<div class="b" style="left:136.5px;top:2002px;width:2px;height:1571px;background:#222;"></div>
<div class="b" style="left:132.5px;top:1997px;width:372.5px;height:2px;background:#909090;"></div>
<div class="b" style="left:136.5px;top:2002px;width:366.5px;height:2px;background:#222;"></div>
<div class="b" style="left:501.5px;top:1997px;width:2px;height:1580px;background:#909090;"></div>
<div class="b" style="left:506px;top:2002px;width:2px;height:1571px;background:#222;"></div>
<div class="b" style="left:2151.8px;top:2002px;width:1.6px;height:1570.6px;background:#909090;"></div>
<div class="b" style="left:2155.6px;top:1997px;width:2px;height:1579.8px;background:#222;"></div>
<div class="b" style="left:137px;top:3571px;width:2016px;height:1.6px;background:#909090;"></div>
<div class="b" style="left:132.5px;top:3574.8px;width:2025px;height:2px;background:#222;"></div>
<div class="b" style="left:503px;top:1997px;width:10px;height:2px;background:#909090;"></div>
<div class="b" style="left:503px;top:2002px;width:10px;height:2px;background:#222;"></div>
<div class="b" style="left:675px;top:1997px;width:476px;height:2px;background:#909090;"></div>
<div class="b" style="left:675px;top:2002px;width:476px;height:2px;background:#222;"></div>
<div class="b" style="left:1327px;top:1997px;width:457px;height:2px;background:#909090;"></div>
<div class="b" style="left:1327px;top:2002px;width:457px;height:2px;background:#222;"></div>
<div class="b" style="left:1976px;top:1997px;width:181px;height:2px;background:#909090;"></div>
<div class="b" style="left:1976px;top:2002px;width:181px;height:2px;background:#222;"></div>
<div class="b" style="left:506px;top:3367.5px;width:1647px;height:2px;background:#909090;"></div>
<div class="b" style="left:506px;top:3371px;width:1647px;height:2px;background:#222;"></div>
<div class="t" id="t40" style="left:537.8px;top:2040.45px;font-size:29px;line-height:29px;color:#000;font-weight:bold;transform:scaleX(0.8998);transform-origin:0 0;">SE:</div>
<div class="t" id="t41" style="left:587.16px;top:2014.71px;font-size:34.6px;line-height:34.6px;color:#FF0000;">2</div>
<div class="t" id="t42" style="left:641.41px;top:2014.71px;font-size:34.6px;line-height:34.6px;color:#FF0000;">3</div>
<div class="t" id="t43" style="left:613.02px;top:2051.99px;font-size:39px;line-height:39px;color:#000;">6</div>
<div class="b" style="left:683px;top:2009px;width:167px;height:122px;background:#fff;border:1.6px solid;border-color:#8c8c8c #262626 #262626 #8c8c8c;box-shadow:inset 2.6px 2.6px 0 #2a2a2a, inset -1.8px -1.8px 0 #8c8c8c;"></div>
<div class="t" id="t44" style="left:685.5px;top:2013.48px;font-size:20.7px;line-height:20.7px;color:#800000;font-weight:bold;-webkit-text-stroke:0.5px #800000;">1) Prosperity</div>
<div class="t" id="t45" style="left:685.5px;top:2036.58px;font-size:20.7px;line-height:20.7px;color:#008000;font-weight:bold;-webkit-text-stroke:0.5px #008000;">2) Death</div>
<div class="t" id="t46" style="left:685.5px;top:2059.68px;font-size:20.7px;line-height:20.7px;color:#000080;font-weight:bold;-webkit-text-stroke:0.5px #000080;">3) Spook</div>
<div class="t" id="t47" style="left:685.5px;top:2082.78px;font-size:20.7px;line-height:20.7px;color:#800080;font-weight:bold;-webkit-text-stroke:0.5px #800080;">4) Health</div>
<div class="t" id="t48" style="left:685.5px;top:2105.88px;font-size:20.7px;line-height:20.7px;color:#808000;font-weight:bold;-webkit-text-stroke:0.5px #808000;">5) Disaster</div>
<div class="b" style="left:517px;top:2103px;width:166px;height:120px;background:#fff;border:1.6px solid;border-color:#8c8c8c #262626 #262626 #8c8c8c;box-shadow:inset 2.6px 2.6px 0 #2a2a2a, inset -1.8px -1.8px 0 #8c8c8c;"></div>
<div class="t" id="t49" style="left:520px;top:2106.98px;font-size:20.7px;line-height:20.7px;color:#FF0000;-webkit-text-stroke:0.45px #FF0000;">Avoid: Earth</div>
<div class="t" id="t50" style="left:520px;top:2130.08px;font-size:20.7px;line-height:20.7px;color:#FF0000;-webkit-text-stroke:0.45px #FF0000;">(BRIGHT</div>
<div class="t" id="t51" style="left:520px;top:2153.18px;font-size:20.7px;line-height:20.7px;color:#FF0000;-webkit-text-stroke:0.45px #FF0000;">Yellow),</div>
<div class="t" id="t52" style="left:520px;top:2176.28px;font-size:20.7px;line-height:20.7px;color:#FF0000;-webkit-text-stroke:0.45px #FF0000;">Wood (Green</div>
<div class="t" id="t53" style="left:520px;top:2199.38px;font-size:20.7px;line-height:20.7px;color:#FF0000;-webkit-text-stroke:0.45px #FF0000;">Only)</div>
<div class="t" id="t54" style="left:1193px;top:2040.05px;font-size:29px;line-height:29px;color:#000;font-weight:bold;transform:scaleX(0.9138);transform-origin:0 0;">S:</div>
<div class="b" style="left:1215px;top:1984px;width:103px;height:61.7px;background:#FFFF00;border-radius:5px;"></div>
<div class="t" id="t55" style="left:1228.26px;top:1999.37px;font-size:35px;line-height:35px;color:#FF0000;font-weight:bold;">7</div>
<div class="t" id="t56" style="left:1282.26px;top:1999.37px;font-size:35px;line-height:35px;color:#FF0000;font-weight:bold;">7</div>
<div class="t" id="t57" style="left:1251.83px;top:2051.99px;font-size:39px;line-height:39px;color:#FF0000;">2</div>
<div class="b" style="left:1164px;top:2103px;width:166px;height:52px;background:#fff;border:1.6px solid;border-color:#8c8c8c #262626 #262626 #8c8c8c;box-shadow:inset 2.6px 2.6px 0 #2a2a2a, inset -1.8px -1.8px 0 #8c8c8c;"></div>
<div class="t" id="t58" style="left:1167px;top:2106.98px;font-size:20.7px;line-height:20.7px;color:#FF0000;-webkit-text-stroke:0.45px #FF0000;">Avoid: Earth</div>
<div class="t" id="t59" style="left:1167px;top:2130.08px;font-size:20.7px;line-height:20.7px;color:#FF0000;-webkit-text-stroke:0.45px #FF0000;">(BRIGHT Yellow)</div>
<div class="b" style="left:1331px;top:2009px;width:167px;height:122px;background:#fff;border:1.6px solid;border-color:#8c8c8c #262626 #262626 #8c8c8c;box-shadow:inset 2.6px 2.6px 0 #2a2a2a, inset -1.8px -1.8px 0 #8c8c8c;"></div>
<div class="t" id="t60" style="left:1333.5px;top:2013.48px;font-size:20.7px;line-height:20.7px;color:#800000;font-weight:bold;-webkit-text-stroke:0.5px #800000;">1) Longevity</div>
<div class="t" id="t61" style="left:1333.5px;top:2036.58px;font-size:20.7px;line-height:20.7px;color:#008000;font-weight:bold;-webkit-text-stroke:0.5px #008000;">2) Disaster</div>
<div class="t" id="t62" style="left:1333.5px;top:2059.68px;font-size:20.7px;line-height:20.7px;color:#000080;font-weight:bold;-webkit-text-stroke:0.5px #000080;">3) Irritation</div>
<div class="t" id="t63" style="left:1333.5px;top:2082.78px;font-size:20.7px;line-height:20.7px;color:#800080;font-weight:bold;-webkit-text-stroke:0.5px #800080;">4) Excellent</div>
<div class="t" id="t64" style="left:1333.5px;top:2105.88px;font-size:20.7px;line-height:20.7px;color:#808000;font-weight:bold;-webkit-text-stroke:0.5px #808000;">5) Death</div>
<div class="t" id="t65" style="left:1828px;top:2040.25px;font-size:29px;line-height:29px;color:#000;font-weight:bold;transform:scaleX(0.9220);transform-origin:0 0;">SW:</div>
<div class="b" style="left:1881.2px;top:2005.3px;width:33.8px;height:47.3px;background:#00FF00;border:1.6px solid #00B800;"></div>
<div class="t" id="t66" style="left:1885.78px;top:2014.51px;font-size:34.6px;line-height:34.6px;color:#0000FF;">9</div>
<div class="t" id="t67" style="left:1940.31px;top:2014.51px;font-size:34.6px;line-height:34.6px;color:#FF0000;">5</div>
<div class="t" id="t68" style="left:1911.28px;top:2053.09px;font-size:37.7px;line-height:37.7px;color:#FF0000;font-weight:bold;">4</div>
<div class="b" style="left:1811.8px;top:2102px;width:166.2px;height:122.6px;background:#fff;border:1.6px solid;border-color:#8c8c8c #262626 #262626 #8c8c8c;box-shadow:inset 2.6px 2.6px 0 #2a2a2a, inset -1.8px -1.8px 0 #8c8c8c;"></div>
<div class="t" id="t69" style="left:1814.8px;top:2105.98px;font-size:20.7px;line-height:20.7px;color:#FF0000;-webkit-text-stroke:0.45px #FF0000;">Avoid: Earth</div>
<div class="t" id="t70" style="left:1814.8px;top:2129.08px;font-size:20.7px;line-height:20.7px;color:#FF0000;-webkit-text-stroke:0.45px #FF0000;">(BRIGHT</div>
<div class="t" id="t71" style="left:1814.8px;top:2152.18px;font-size:20.7px;line-height:20.7px;color:#FF0000;-webkit-text-stroke:0.45px #FF0000;">Yellow),</div>
<div class="t" id="t72" style="left:1814.8px;top:2175.28px;font-size:20.7px;line-height:20.7px;color:#FF0000;-webkit-text-stroke:0.45px #FF0000;">Wood (Green</div>
<div class="t" id="t73" style="left:1814.8px;top:2198.38px;font-size:20.7px;line-height:20.7px;color:#FF0000;-webkit-text-stroke:0.45px #FF0000;">Only)</div>
<div class="b" style="left:1978.6px;top:2008px;width:167.1px;height:123px;background:#fff;border:1.6px solid;border-color:#8c8c8c #262626 #262626 #8c8c8c;box-shadow:inset 2.6px 2.6px 0 #2a2a2a, inset -1.8px -1.8px 0 #8c8c8c;"></div>
<div class="t" id="t74" style="left:1981.1px;top:2012.48px;font-size:20.7px;line-height:20.7px;color:#800000;font-weight:bold;-webkit-text-stroke:0.5px #800000;">1) Death</div>
<div class="t" id="t75" style="left:1981.1px;top:2035.58px;font-size:20.7px;line-height:20.7px;color:#008000;font-weight:bold;-webkit-text-stroke:0.5px #008000;">2) Prosperity</div>
<div class="t" id="t76" style="left:1981.1px;top:2058.68px;font-size:20.7px;line-height:20.7px;color:#000080;font-weight:bold;-webkit-text-stroke:0.5px #000080;">3) Excellent</div>
<div class="t" id="t77" style="left:1981.1px;top:2081.78px;font-size:20.7px;line-height:20.7px;color:#800080;font-weight:bold;-webkit-text-stroke:0.5px #800080;">4) Irritation</div>
<div class="t" id="t78" style="left:1981.1px;top:2104.88px;font-size:20.7px;line-height:20.7px;color:#808000;font-weight:bold;-webkit-text-stroke:0.5px #808000;">5) Longevity</div>
<div class="t" id="t79" style="left:545px;top:2531.25px;font-size:29px;line-height:29px;color:#000;font-weight:bold;transform:scaleX(0.8448);transform-origin:0 0;">E:</div>
<div class="b" style="left:567.2px;top:2495.4px;width:41.6px;height:51.2px;background:#00FFFF;border:1.6px solid #0000EE;"></div>
<div class="t" id="t80" style="left:577.03px;top:2505.51px;font-size:34.6px;line-height:34.6px;color:#000;">1</div>
<div class="t" id="t81" style="left:630.7px;top:2505.51px;font-size:34.6px;line-height:34.6px;color:#FF0000;">4</div>
<div class="t" id="t82" style="left:602.34px;top:2543.91px;font-size:38.5px;line-height:38.5px;color:#FF0000;">5</div>
<div class="b" style="left:515px;top:2593.5px;width:166px;height:120px;background:#fff;border:1.6px solid;border-color:#8c8c8c #262626 #262626 #8c8c8c;box-shadow:inset 2.6px 2.6px 0 #2a2a2a, inset -1.8px -1.8px 0 #8c8c8c;"></div>
<div class="t" id="t83" style="left:518px;top:2597.48px;font-size:20.7px;line-height:20.7px;color:#FF0000;-webkit-text-stroke:0.45px #FF0000;">Avoid: Earth</div>
<div class="t" id="t84" style="left:518px;top:2620.58px;font-size:20.7px;line-height:20.7px;color:#FF0000;-webkit-text-stroke:0.45px #FF0000;">(BRIGHT</div>
<div class="t" id="t85" style="left:518px;top:2643.68px;font-size:20.7px;line-height:20.7px;color:#FF0000;-webkit-text-stroke:0.45px #FF0000;">Yellow),</div>
<div class="t" id="t86" style="left:518px;top:2666.78px;font-size:20.7px;line-height:20.7px;color:#FF0000;-webkit-text-stroke:0.45px #FF0000;">Wood (Green</div>
<div class="t" id="t87" style="left:518px;top:2689.88px;font-size:20.7px;line-height:20.7px;color:#FF0000;-webkit-text-stroke:0.45px #FF0000;">Only)</div>
<div class="b" style="left:515px;top:2715.8px;width:166px;height:123.8px;background:#fff;border:1.6px solid;border-color:#8c8c8c #262626 #262626 #8c8c8c;box-shadow:inset 2.6px 2.6px 0 #2a2a2a, inset -1.8px -1.8px 0 #8c8c8c;"></div>
<div class="t" id="t88" style="left:517.5px;top:2720.28px;font-size:20.7px;line-height:20.7px;color:#800000;font-weight:bold;-webkit-text-stroke:0.5px #800000;">1) Health</div>
<div class="t" id="t89" style="left:517.5px;top:2743.38px;font-size:20.7px;line-height:20.7px;color:#008000;font-weight:bold;-webkit-text-stroke:0.5px #008000;">2) Irritation</div>
<div class="t" id="t90" style="left:517.5px;top:2766.48px;font-size:20.7px;line-height:20.7px;color:#000080;font-weight:bold;-webkit-text-stroke:0.5px #000080;">3) Disaster</div>
<div class="t" id="t91" style="left:517.5px;top:2789.58px;font-size:20.7px;line-height:20.7px;color:#800080;font-weight:bold;-webkit-text-stroke:0.5px #800080;">4) Prosperity</div>
<div class="t" id="t92" style="left:517.5px;top:2812.68px;font-size:20.7px;line-height:20.7px;color:#808000;font-weight:bold;-webkit-text-stroke:0.5px #808000;">5) Spook</div>
<div class="t" id="t93" style="left:2004.2px;top:2555.52px;font-size:27.5px;line-height:27.5px;color:#000;font-weight:bold;transform:scaleX(0.9964);transform-origin:0 0;">W:</div>
<div class="t" id="t94" style="left:2043.58px;top:2529.87px;font-size:33px;line-height:33px;color:#FF0000;">5</div>
<div class="b" style="left:2087.3px;top:2521.4px;width:39.7px;height:51.5px;background:#00FF00;border:1.6px solid #00B800;"></div>
<div class="t" id="t95" style="left:2097.59px;top:2528.68px;font-size:34.4px;line-height:34.4px;color:#0000FF;">9</div>
<div class="t" id="t96" style="left:2069.42px;top:2567.41px;font-size:38.5px;line-height:38.5px;color:#0000FF;">9</div>
<div class="b" style="left:1979px;top:2616px;width:166.4px;height:52px;background:#fff;border:1.6px solid;border-color:#8c8c8c #262626 #262626 #8c8c8c;box-shadow:inset 2.6px 2.6px 0 #2a2a2a, inset -1.8px -1.8px 0 #8c8c8c;"></div>
<div class="t" id="t97" style="left:1982px;top:2619.98px;font-size:20.7px;line-height:20.7px;color:#FF0000;-webkit-text-stroke:0.45px #FF0000;">Avoid: Earth</div>
<div class="t" id="t98" style="left:1982px;top:2643.08px;font-size:20.7px;line-height:20.7px;color:#FF0000;-webkit-text-stroke:0.45px #FF0000;">(BRIGHT Yellow)</div>
<div class="b" style="left:1979px;top:2671px;width:166.4px;height:122px;background:#fff;border:1.6px solid;border-color:#8c8c8c #262626 #262626 #8c8c8c;box-shadow:inset 2.6px 2.6px 0 #2a2a2a, inset -1.8px -1.8px 0 #8c8c8c;"></div>
<div class="t" id="t99" style="left:1981.5px;top:2675.48px;font-size:20.7px;line-height:20.7px;color:#800000;font-weight:bold;-webkit-text-stroke:0.5px #800000;">1) Disaster</div>
<div class="t" id="t100" style="left:1981.5px;top:2698.58px;font-size:20.7px;line-height:20.7px;color:#008000;font-weight:bold;-webkit-text-stroke:0.5px #008000;">2) Longevity</div>
<div class="t" id="t101" style="left:1981.5px;top:2721.68px;font-size:20.7px;line-height:20.7px;color:#000080;font-weight:bold;-webkit-text-stroke:0.5px #000080;">3) Health</div>
<div class="t" id="t102" style="left:1981.5px;top:2744.78px;font-size:20.7px;line-height:20.7px;color:#800080;font-weight:bold;-webkit-text-stroke:0.5px #800080;">4) Spook</div>
<div class="t" id="t103" style="left:1981.5px;top:2767.88px;font-size:20.7px;line-height:20.7px;color:#808000;font-weight:bold;-webkit-text-stroke:0.5px #808000;">5) Prosperity</div>
<div class="t" id="t104" style="left:533.6px;top:3264.05px;font-size:29px;line-height:29px;color:#000;font-weight:bold;transform:scaleX(0.9309);transform-origin:0 0;">NE:</div>
<div class="t" id="t105" style="left:585.69px;top:3237.41px;font-size:34.6px;line-height:34.6px;color:#000;">6</div>
<div class="t" id="t106" style="left:612.8px;top:3276.11px;font-size:38.5px;line-height:38.5px;color:#000;">1</div>
<div class="b" style="left:629.4px;top:3233px;width:37.4px;height:43px;background:#00FFFF;border:1.6px solid #0000EE;"></div>
<div class="t" id="t107" style="left:638.08px;top:3238.07px;font-size:33px;line-height:33px;color:#0000FF;">8</div>
<div class="b" style="left:514px;top:3327px;width:164.6px;height:31px;background:#fff;border:1.6px solid;border-color:#8c8c8c #262626 #262626 #8c8c8c;box-shadow:inset 2.6px 2.6px 0 #2a2a2a, inset -1.8px -1.8px 0 #8c8c8c;"></div>
<div class="t" id="t108" style="left:517px;top:3330.98px;font-size:20.7px;line-height:20.7px;color:#000;-webkit-text-stroke:0.45px #000;">Avoid: none</div>
<div class="b" style="left:681.5px;top:3234.8px;width:166px;height:123.2px;background:#fff;border:1.6px solid;border-color:#8c8c8c #262626 #262626 #8c8c8c;box-shadow:inset 2.6px 2.6px 0 #2a2a2a, inset -1.8px -1.8px 0 #8c8c8c;"></div>
<div class="t" id="t109" style="left:684px;top:3239.28px;font-size:20.7px;line-height:20.7px;color:#800000;font-weight:bold;-webkit-text-stroke:0.5px #800000;">1) Spook</div>
<div class="t" id="t110" style="left:684px;top:3262.38px;font-size:20.7px;line-height:20.7px;color:#008000;font-weight:bold;-webkit-text-stroke:0.5px #008000;">2) Excellent</div>
<div class="t" id="t111" style="left:684px;top:3285.48px;font-size:20.7px;line-height:20.7px;color:#000080;font-weight:bold;-webkit-text-stroke:0.5px #000080;">3) Prosperity</div>
<div class="t" id="t112" style="left:684px;top:3308.58px;font-size:20.7px;line-height:20.7px;color:#800080;font-weight:bold;-webkit-text-stroke:0.5px #800080;">4) Disaster</div>
<div class="t" id="t113" style="left:684px;top:3331.68px;font-size:20.7px;line-height:20.7px;color:#808000;font-weight:bold;-webkit-text-stroke:0.5px #808000;">5) Health</div>
<div class="t" id="t114" style="left:1190px;top:3240.95px;font-size:29px;line-height:29px;color:#000;font-weight:bold;transform:scaleX(0.8657);transform-origin:0 0;">N:</div>
<div class="b" style="left:1217.6px;top:3205px;width:34.4px;height:54px;background:#00FFFF;border:1.6px solid #0000EE;"></div>
<div class="t" id="t115" style="left:1225.08px;top:3215.07px;font-size:33px;line-height:33px;color:#0000FF;">8</div>
<div class="t" id="t116" style="left:1249.34px;top:3253.91px;font-size:38.5px;line-height:38.5px;color:#FF0000;">3</div>
<div class="t" id="t117" style="left:1276.69px;top:3213.71px;font-size:34.6px;line-height:34.6px;color:#000;">6</div>
<div class="b" style="left:1161px;top:3304px;width:166px;height:54px;background:#fff;border:1.6px solid;border-color:#8c8c8c #262626 #262626 #8c8c8c;box-shadow:inset 2.6px 2.6px 0 #2a2a2a, inset -1.8px -1.8px 0 #8c8c8c;"></div>
<div class="t" id="t118" style="left:1164px;top:3307.98px;font-size:20.7px;line-height:20.7px;color:#FF0000;-webkit-text-stroke:0.45px #FF0000;">Avoid: Wood</div>
<div class="t" id="t119" style="left:1164px;top:3331.08px;font-size:20.7px;line-height:20.7px;color:#FF0000;-webkit-text-stroke:0.45px #FF0000;">(Green Only)</div>
<div class="b" style="left:1328px;top:3235.8px;width:166px;height:121.2px;background:#fff;border:1.6px solid;border-color:#8c8c8c #262626 #262626 #8c8c8c;box-shadow:inset 2.6px 2.6px 0 #2a2a2a, inset -1.8px -1.8px 0 #8c8c8c;"></div>
<div class="t" id="t120" style="left:1330.5px;top:3240.28px;font-size:20.7px;line-height:20.7px;color:#800000;font-weight:bold;-webkit-text-stroke:0.5px #800000;">1) Excellent</div>
<div class="t" id="t121" style="left:1330.5px;top:3263.38px;font-size:20.7px;line-height:20.7px;color:#008000;font-weight:bold;-webkit-text-stroke:0.5px #008000;">2) Spook</div>
<div class="t" id="t122" style="left:1330.5px;top:3286.48px;font-size:20.7px;line-height:20.7px;color:#000080;font-weight:bold;-webkit-text-stroke:0.5px #000080;">3) Death</div>
<div class="t" id="t123" style="left:1330.5px;top:3309.58px;font-size:20.7px;line-height:20.7px;color:#800080;font-weight:bold;-webkit-text-stroke:0.5px #800080;">4) Longevity</div>
<div class="t" id="t124" style="left:1330.5px;top:3332.68px;font-size:20.7px;line-height:20.7px;color:#808000;font-weight:bold;-webkit-text-stroke:0.5px #808000;">5) Irritation</div>
<div class="t" id="t125" style="left:1823.6px;top:3241.95px;font-size:29px;line-height:29px;color:#000;font-weight:bold;transform:scaleX(0.9660);transform-origin:0 0;">NW:</div>
<div class="t" id="t126" style="left:1884.1px;top:3215.71px;font-size:34.6px;line-height:34.6px;color:#FF0000;">4</div>
<div class="t" id="t127" style="left:1940.23px;top:3215.71px;font-size:34.6px;line-height:34.6px;color:#000;">1</div>
<div class="t" id="t128" style="left:1910.34px;top:3252.41px;font-size:38.5px;line-height:38.5px;color:#0000FF;">8</div>
<div class="b" style="left:1809px;top:3304px;width:163.5px;height:53px;background:#fff;border:1.6px solid;border-color:#8c8c8c #262626 #262626 #8c8c8c;box-shadow:inset 2.6px 2.6px 0 #2a2a2a, inset -1.8px -1.8px 0 #8c8c8c;"></div>
<div class="t" id="t129" style="left:1812px;top:3307.98px;font-size:20.7px;line-height:20.7px;color:#FF0000;-webkit-text-stroke:0.45px #FF0000;">Avoid: Wood</div>
<div class="t" id="t130" style="left:1812px;top:3331.08px;font-size:20.7px;line-height:20.7px;color:#FF0000;-webkit-text-stroke:0.45px #FF0000;">(Green Only)</div>
<div class="b" style="left:1975.8px;top:3236px;width:165.2px;height:121px;background:#fff;border:1.6px solid;border-color:#8c8c8c #262626 #262626 #8c8c8c;box-shadow:inset 2.6px 2.6px 0 #2a2a2a, inset -1.8px -1.8px 0 #8c8c8c;"></div>
<div class="t" id="t131" style="left:1978.3px;top:3240.48px;font-size:20.7px;line-height:20.7px;color:#800000;font-weight:bold;-webkit-text-stroke:0.5px #800000;">1) Irritation</div>
<div class="t" id="t132" style="left:1978.3px;top:3263.58px;font-size:20.7px;line-height:20.7px;color:#008000;font-weight:bold;-webkit-text-stroke:0.5px #008000;">2) Health</div>
<div class="t" id="t133" style="left:1978.3px;top:3286.68px;font-size:20.7px;line-height:20.7px;color:#000080;font-weight:bold;-webkit-text-stroke:0.5px #000080;">3) Longevity</div>
<div class="t" id="t134" style="left:1978.3px;top:3309.78px;font-size:20.7px;line-height:20.7px;color:#800080;font-weight:bold;-webkit-text-stroke:0.5px #800080;">4) Death</div>
<div class="t" id="t135" style="left:1978.3px;top:3332.88px;font-size:20.7px;line-height:20.7px;color:#808000;font-weight:bold;-webkit-text-stroke:0.5px #808000;">5) Excellent</div>
<svg class="b" style="left:0px;top:0px;z-index:3;" width="2200" height="3600" viewBox="0 0 2200 3600"><line x1="1267" y1="1830" x2="1267" y2="1985" stroke="#BFBF00" stroke-width="6"/><line x1="1896" y1="1929" x2="1896" y2="2006" stroke="#00C000" stroke-width="5"/><polyline points="608,2496 730,2471.5 796,2474.7 816.7,2495" fill="none" stroke="#0000FF" stroke-width="5"/><polyline points="909.7,2560.4 945.4,2602.4 1135.5,2617" fill="none" stroke="#0000FF" stroke-width="5"/><polyline points="1109,2593 1135.5,2617 1101.5,2644" fill="none" stroke="#0000FF" stroke-width="5"/><line x1="1323.5" y1="2295" x2="1321" y2="2466" stroke="#0000FF" stroke-width="5"/><polyline points="1304.6,2438.3 1320.4,2471.4 1339.3,2438.3" fill="none" stroke="#0000FF" stroke-width="5"/><polyline points="1890,2534.5 2020.8,2473.5 2098.4,2518" fill="none" stroke="#00C000" stroke-width="4.5"/><line x1="648" y1="3134" x2="648" y2="3233" stroke="#0000FF" stroke-width="4.5"/><line x1="1243" y1="3138" x2="1243" y2="3205" stroke="#0000FF" stroke-width="4.5"/><line x1="1309" y1="2928" x2="1245.8" y2="3064.6" stroke="#0000FF" stroke-width="4"/><line x1="1433" y1="2925" x2="1575.4" y2="3004" stroke="#FF0000" stroke-width="5"/></svg>
<div class="t" id="t136" style="left:1046.3px;top:1699.31px;font-size:30px;line-height:30px;color:#BFBF00;font-weight:bold;transform:scaleX(0.9792);transform-origin:0 0;">From key collection till 2003,</div>
<div class="t" id="t137" style="left:1046.3px;top:1732.4px;font-size:30px;line-height:30px;color:#BFBF00;font-weight:bold;transform:scaleX(0.9816);transform-origin:0 0;">frontage was very auspicious.</div>
<div class="t" id="t138" style="left:1046.3px;top:1765.51px;font-size:30px;line-height:30px;color:#BFBF00;font-weight:bold;transform:scaleX(0.9864);transform-origin:0 0;">But after 2004 onwards, double #7&#x27;s</div>
<div class="t" id="t139" style="left:1046.3px;top:1798.61px;font-size:30px;line-height:30px;color:#BFBF00;font-weight:bold;transform:scaleX(0.9569);transform-origin:0 0;">is inauspicious</div>
<div class="t" id="t140" style="left:1656px;top:1801.91px;font-size:32px;line-height:32px;color:#00C000;font-weight:bold;transform:scaleX(1.0140);transform-origin:0 0;">#9 represents auspicious wealth luck</div>
<div class="t" id="t141" style="left:1656px;top:1838.71px;font-size:32px;line-height:32px;color:#00C000;font-weight:bold;transform:scaleX(1.0167);transform-origin:0 0;">for networking and relationship from 2024</div>
<div class="t" id="t142" style="left:1656px;top:1875.51px;font-size:32px;line-height:32px;color:#00C000;font-weight:bold;transform:scaleX(1.0124);transform-origin:0 0;">till 2043. Good to influence bedroom 2</div>
<div class="t" id="t143" style="left:1233.7px;top:2185px;font-size:21.5px;line-height:21.5px;color:#0000FF;transform:scaleX(1.0571);transform-origin:0 0;-webkit-text-stroke:0.7px #0000FF;">Master Bedroom</div>
<div class="t" id="t144" style="left:1233.7px;top:2209.3px;font-size:21.5px;line-height:21.5px;color:#0000FF;transform:scaleX(1.0725);transform-origin:0 0;-webkit-text-stroke:0.7px #0000FF;">suitable to Mr Tew</div>
<div class="t" id="t145" style="left:1233.7px;top:2233.6px;font-size:21.5px;line-height:21.5px;color:#0000FF;transform:scaleX(1.0670);transform-origin:0 0;-webkit-text-stroke:0.7px #0000FF;">Mrs sleep closer</div>
<div class="t" id="t146" style="left:1233.7px;top:2257.9px;font-size:21.5px;line-height:21.5px;color:#0000FF;transform:scaleX(1.0648);transform-origin:0 0;-webkit-text-stroke:0.7px #0000FF;">to the bedroom</div>
<div class="t" id="t147" style="left:1233.7px;top:2282.2px;font-size:21.5px;line-height:21.5px;color:#0000FF;transform:scaleX(1.0918);transform-origin:0 0;-webkit-text-stroke:0.7px #0000FF;">door</div>
<div class="t" id="t148" style="left:1576.8px;top:2260.95px;font-size:22.5px;line-height:22.5px;color:#0000FF;font-weight:bold;transform:scaleX(1.0742);transform-origin:0 0;">Bedroom 2 suitable</div>
<div class="t" id="t149" style="left:1576.8px;top:2288.95px;font-size:22.5px;line-height:22.5px;color:#0000FF;font-weight:bold;transform:scaleX(1.0631);transform-origin:0 0;">for mum &amp;</div>
<div class="b" style="left:1701.4px;top:2288.6px;width:51.6px;height:23.2px;background:#C0C0FA;"></div>
<div class="t" id="t150" style="left:1576.8px;top:2317.35px;font-size:22.5px;line-height:22.5px;color:#000;transform:scaleX(1.1508);transform-origin:0 0;-webkit-text-stroke:0.7px #000;">Can still be balanced</div>
<div class="t" id="t151" style="left:1576.8px;top:2344.95px;font-size:22.5px;line-height:22.5px;color:#000;transform:scaleX(1.1955);transform-origin:0 0;-webkit-text-stroke:0.7px #000;">for</div>
<div class="b" style="left:1613px;top:2345.7px;width:56px;height:25.7px;background:#C0C0FA;"></div>
<div class="t" id="t152" style="left:764px;top:2497.82px;font-size:21px;line-height:21px;color:#0000FF;font-weight:bold;">#1 = auspicious. Good</div>
<div class="t" id="t153" style="left:764px;top:2521.82px;font-size:21px;line-height:21px;color:#0000FF;font-weight:bold;">to influence the living</div>
<div class="t" id="t154" style="left:764px;top:2545.82px;font-size:21px;line-height:21px;color:#0000FF;font-weight:bold;transform:scaleX(0.9905);transform-origin:0 0;">room</div>
<div class="t" id="t155" style="left:1582.2px;top:2552.25px;font-size:20.5px;line-height:20.5px;color:#00C000;font-weight:bold;transform:scaleX(1.0452);transform-origin:0 0;">#9 represents auspicious wealth luck</div>
<div class="t" id="t156" style="left:1582.2px;top:2576.32px;font-size:20.5px;line-height:20.5px;color:#00C000;font-weight:bold;transform:scaleX(1.0573);transform-origin:0 0;">for career and overall general luck</div>
<div class="t" id="t157" style="left:1582.2px;top:2600.39px;font-size:20.5px;line-height:20.5px;color:#00C000;font-weight:bold;transform:scaleX(1.0435);transform-origin:0 0;">from 2024 till 2043. Good to influence</div>
<div class="t" id="t158" style="left:1582.2px;top:2624.46px;font-size:20.5px;line-height:20.5px;color:#00C000;font-weight:bold;transform:scaleX(1.0401);transform-origin:0 0;">bedroom 2</div>
<div class="t" id="t159" style="left:1620.3px;top:2656.78px;font-size:22px;line-height:22px;color:#0000FF;font-weight:bold;transform:scaleX(1.0996);transform-origin:0 0;">Bedroom 3 suitable</div>
<div class="t" id="t160" style="left:1620.3px;top:2684.88px;font-size:22px;line-height:22px;color:#0000FF;font-weight:bold;transform:scaleX(1.0791);transform-origin:0 0;">for mum &amp;</div>
<div class="b" style="left:1745px;top:2683px;width:53px;height:23.7px;background:#C0C0FA;"></div>
<div class="t" id="t161" style="left:1620.3px;top:2714.58px;font-size:22px;line-height:22px;color:#000;font-weight:bold;transform:scaleX(1.0944);transform-origin:0 0;">Can still be balanced</div>
<div class="t" id="t162" style="left:1620.3px;top:2741.88px;font-size:22px;line-height:22px;color:#000;font-weight:bold;transform:scaleX(1.0843);transform-origin:0 0;">for</div>
<div class="b" style="left:1656px;top:2742px;width:54px;height:25.3px;background:#C0C0FA;"></div>
<div class="t" id="t163" style="left:549.6px;top:2869.1px;font-size:28px;line-height:28px;color:#0000FF;font-weight:bold;transform:scaleX(0.9876);transform-origin:0 0;">#8 = career and overall</div>
<div class="t" id="t164" style="left:549.6px;top:2900.57px;font-size:28px;line-height:28px;color:#0000FF;font-weight:bold;transform:scaleX(0.9750);transform-origin:0 0;">luck from now till 2023.</div>
<div class="t" id="t165" style="left:549.6px;top:2932.04px;font-size:28px;line-height:28px;color:#0000FF;font-weight:bold;transform:scaleX(0.9730);transform-origin:0 0;">Good to be at the main door.</div>
<div class="t" id="t166" style="left:549.6px;top:2963.51px;font-size:28px;line-height:28px;color:#0000FF;font-weight:bold;transform:scaleX(0.9776);transform-origin:0 0;">By 2024 onwards, this #8</div>
<div class="t" id="t167" style="left:549.6px;top:2994.98px;font-size:28px;line-height:28px;color:#0000FF;font-weight:bold;transform:scaleX(0.9906);transform-origin:0 0;">becomes past prosperity.</div>
<div class="t" id="t168" style="left:549.6px;top:3026.45px;font-size:28px;line-height:28px;color:#0000FF;font-weight:bold;transform:scaleX(0.9760);transform-origin:0 0;">And wealth luck changes</div>
<div class="t" id="t169" style="left:549.6px;top:3057.92px;font-size:28px;line-height:28px;color:#0000FF;font-weight:bold;transform:scaleX(0.9570);transform-origin:0 0;">to West and SW = #9&#x27;s</div>
<div class="t" id="t170" style="left:987.4px;top:3069.56px;font-size:18px;line-height:18px;color:#0000FF;font-weight:bold;transform:scaleX(1.0753);transform-origin:0 0;">#8 represents networking and relationship luck</div>
<div class="t" id="t171" style="left:987.4px;top:3091.43px;font-size:18px;line-height:18px;color:#0000FF;font-weight:bold;transform:scaleX(1.0782);transform-origin:0 0;">activated now till 2023. But once from 2024 onwards,</div>
<div class="t" id="t172" style="left:987.4px;top:3113.3px;font-size:18px;line-height:18px;color:#0000FF;font-weight:bold;transform:scaleX(1.0686);transform-origin:0 0;">it becomes past prosperity. By then #9 at West and SW</div>
<div class="t" id="t173" style="left:987.4px;top:3135.17px;font-size:18px;line-height:18px;color:#0000FF;font-weight:bold;transform:scaleX(1.0764);transform-origin:0 0;">takes over the luck/sector</div>
<div class="t" id="t174" style="left:1575.4px;top:3007.99px;font-size:26px;line-height:26px;color:#FF0000;font-weight:bold;transform:scaleX(1.0332);transform-origin:0 0;">avoid stove in the</div>
<div class="t" id="t175" style="left:1575.4px;top:3039.09px;font-size:26px;line-height:26px;color:#FF0000;font-weight:bold;transform:scaleX(1.0352);transform-origin:0 0;">yellow zone. So long</div>
<div class="t" id="t176" style="left:1575.4px;top:3070.19px;font-size:26px;line-height:26px;color:#FF0000;font-weight:bold;transform:scaleX(1.0289);transform-origin:0 0;">as stove is in the pink</div>
<div class="t" id="t177" style="left:1575.4px;top:3101.29px;font-size:26px;line-height:26px;color:#FF0000;font-weight:bold;transform:scaleX(1.0335);transform-origin:0 0;">zone is okay</div>
<div class="b" style="left:533.6px;top:3392.8px;width:626.1px;height:158.2px;background:#fff;border:1.6px solid;border-color:#8c8c8c #262626 #262626 #8c8c8c;box-shadow:inset 2.6px 2.6px 0 #2a2a2a, inset -1.8px -1.8px 0 #8c8c8c;"></div>
<div class="t" id="t178" style="left:736.05px;top:3429.57px;font-size:33px;line-height:33px;color:#000;font-weight:bold;transform:scaleX(1.0041);transform-origin:0 0;">The Rivervale</div>
<div class="t" id="t179" style="left:654.6px;top:3475.79px;font-size:26px;line-height:26px;color:#000;transform:scaleX(1.0416);transform-origin:0 0;">S1 South, Period 7 (1984-2003)</div>
<svg class="b" style="left:1180px;top:3406px;" width="126" height="126" viewBox="0 0 126 126"><circle cx="63.1" cy="64.6" r="58" fill="#000"/><path d="M47.9 26 H77.4 V64.2 H110.1 L62.6 104 L15.2 64.2 H47.9 Z" fill="#fff"/></svg>
<div class="t" id="t180" style="left:152.3px;top:2009.84px;font-size:27px;line-height:27px;color:#000;font-weight:bold;transform:scaleX(1.0057);transform-origin:0 0;text-decoration:underline;text-decoration-thickness:2px;text-underline-offset:3px;">Best Directions</div>
<div class="t" id="t181" style="left:152.5px;top:2040.27px;font-size:20px;line-height:20px;color:#800000;font-weight:bold;-webkit-text-stroke:0.4px #800000;">1)</div>
<div class="t" id="t182" style="left:152.5px;top:2063.27px;font-size:20px;line-height:20px;color:#800000;-webkit-text-stroke:0.4px #800000;">Gu</div>
<div class="t" id="t183" style="left:152.5px;top:2086.27px;font-size:20px;line-height:20px;color:#800000;-webkit-text-stroke:0.4px #800000;">Be</div>
<div class="t" id="t184" style="left:152.5px;top:2109.27px;font-size:20px;line-height:20px;color:#800000;transform:scaleX(1.0404);transform-origin:0 0;-webkit-text-stroke:0.4px #800000;"><b>(white/gold),</b> Earth (yellow)</div>
<div class="b" style="left:176px;top:2041.2px;width:272.8px;height:69.7px;background:#C0C0FA;"></div>
<div class="t" id="t185" style="left:152.5px;top:2337.47px;font-size:20px;line-height:20px;color:#008000;font-weight:bold;-webkit-text-stroke:0.4px #008000;">2)</div>
<div class="t" id="t186" style="left:152.5px;top:2360.47px;font-size:20px;line-height:20px;color:#008000;-webkit-text-stroke:0.4px #008000;">Gu</div>
<div class="t" id="t187" style="left:152.5px;top:2383.47px;font-size:20px;line-height:20px;color:#008000;-webkit-text-stroke:0.4px #008000;">Be</div>
<div class="t" id="t188" style="left:152.5px;top:2406.47px;font-size:20px;line-height:20px;color:#008000;transform:scaleX(1.0312);transform-origin:0 0;-webkit-text-stroke:0.4px #008000;"><b>(white/gold)</b></div>
<div class="b" style="left:174px;top:2330.3px;width:305px;height:76.4px;background:#C0C0FA;"></div>
<div class="t" id="t189" style="left:152.5px;top:2633.87px;font-size:20px;line-height:20px;color:#000080;font-weight:bold;-webkit-text-stroke:0.4px #000080;">3)</div>
<div class="t" id="t190" style="left:152.5px;top:2656.87px;font-size:20px;line-height:20px;color:#000080;-webkit-text-stroke:0.4px #000080;">Gu</div>
<div class="t" id="t191" style="left:152.5px;top:2679.87px;font-size:20px;line-height:20px;color:#000080;-webkit-text-stroke:0.4px #000080;">Be</div>
<div class="t" id="t192" style="left:152.5px;top:2702.87px;font-size:20px;line-height:20px;color:#000080;transform:scaleX(1.0436);transform-origin:0 0;-webkit-text-stroke:0.4px #000080;"><b>Wood (green/brown),</b> Water</div>
<div class="t" id="t193" style="left:152.5px;top:2725.87px;font-size:20px;line-height:20px;color:#000080;transform:scaleX(1.0362);transform-origin:0 0;-webkit-text-stroke:0.4px #000080;">(blue/black/grey)</div>
<div class="b" style="left:173.2px;top:2630.6px;width:284.8px;height:71.2px;background:#C0C0FA;"></div>
<div class="t" id="t194" style="left:152.5px;top:2953.07px;font-size:20px;line-height:20px;color:#800080;font-weight:bold;-webkit-text-stroke:0.4px #800080;">4)</div>
<div class="t" id="t195" style="left:152.5px;top:2976.07px;font-size:20px;line-height:20px;color:#800080;-webkit-text-stroke:0.4px #800080;">Gu</div>
<div class="t" id="t196" style="left:152.5px;top:2999.07px;font-size:20px;line-height:20px;color:#800080;-webkit-text-stroke:0.4px #800080;">Be</div>
<div class="t" id="t197" style="left:152.5px;top:3022.07px;font-size:20px;line-height:20px;color:#800080;transform:scaleX(1.0465);transform-origin:0 0;-webkit-text-stroke:0.4px #800080;"><b>(white/gold),</b> Earth (yellow)</div>
<div class="b" style="left:176px;top:2945.7px;width:283.6px;height:73.3px;background:#C0C0FA;"></div>
<div class="t" id="t198" style="left:152.5px;top:3250.57px;font-size:20px;line-height:20px;color:#808000;font-weight:bold;-webkit-text-stroke:0.4px #808000;">5)</div>
<div class="t" id="t199" style="left:152.5px;top:3273.57px;font-size:20px;line-height:20px;color:#808000;-webkit-text-stroke:0.4px #808000;">Gu</div>
<div class="t" id="t200" style="left:152.5px;top:3296.57px;font-size:20px;line-height:20px;color:#808000;-webkit-text-stroke:0.4px #808000;">Be</div>
<div class="t" id="t201" style="left:152.5px;top:3319.57px;font-size:20px;line-height:20px;color:#808000;transform:scaleX(1.0439);transform-origin:0 0;-webkit-text-stroke:0.4px #808000;"><b>(blue/black/grey), Fire (red),</b> Wood</div>
<div class="t" id="t202" style="left:152.5px;top:3342.57px;font-size:20px;line-height:20px;color:#808000;transform:scaleX(1.0473);transform-origin:0 0;-webkit-text-stroke:0.4px #808000;">(green/brown)</div>
<div class="b" style="left:174px;top:3239px;width:297.5px;height:74px;background:#C0C0FA;"></div>
<svg class="b" style="left:0px;top:0px;" width="510" height="3600" viewBox="0 0 510 3600"><defs>
<g id="gp">
 <rect x="-14.5" y="-25.5" width="29" height="51" rx="7" fill="#BC7A12"/>
 <path d="M-14.5 -6 L-4 -6 L-1 -12 L14.5 -12 L14.5 0 L4 0 L1 6 L-14.5 8 Z" fill="#C9C9C9"/>
 <path d="M-14.5 8 L1 6 L4 12 L-14.5 14 Z" fill="#F2B400"/>
 <rect x="-11" y="11" width="22" height="9" rx="4" fill="#5C2E00"/>
</g>
<g id="bp">
 <rect x="-22.5" y="-11.5" width="45" height="23" fill="#663300" stroke="#8a6040" stroke-width="1"/>
 <rect x="-9" y="11" width="18" height="10" fill="#7878F8"/>
 <rect x="-14" y="19" width="28" height="7" rx="3.5" fill="#000080"/>
</g>
<g id="yc">
 <circle r="23.4" fill="#FFFF00"/>
 <rect x="-3.3" y="-18" width="6.6" height="22" fill="#000"/>
 <path d="M-13 2 L13 2 L0 20 Z" fill="#000"/>
</g>
</defs><g transform="translate(238.4,2214.8)"><use href="#gp" transform="translate(-1.5,-55.0) rotate(-1.6)"/><use href="#gp" transform="translate(53.0,-1.0) rotate(88.9)"/><use href="#gp" transform="translate(-1.5,54.0) rotate(-178.4)"/><use href="#gp" transform="translate(36.6,38.0) rotate(-223.9)"/><use href="#yc"/></g><g transform="translate(402.7,2214.8)"><use href="#bp" transform="translate(0.5,-66.0) rotate(0.4)"/><use href="#bp" transform="translate(-65.7,0.5) rotate(-90.4)"/><use href="#bp" transform="translate(-48.0,-47.0) rotate(-45.6)"/><use href="#bp" transform="translate(1.0,66.4) rotate(-180.9)"/><use href="#yc"/></g><g transform="translate(238.4,3127.8)"><use href="#gp" transform="translate(-1.5,-55.0) rotate(-1.6)"/><use href="#gp" transform="translate(53.0,-1.0) rotate(88.9)"/><use href="#gp" transform="translate(-1.5,54.0) rotate(-178.4)"/><use href="#gp" transform="translate(36.6,38.0) rotate(-223.9)"/><use href="#yc"/></g><g transform="translate(402.7,3127.8)"><use href="#bp" transform="translate(0.5,-66.0) rotate(0.4)"/><use href="#bp" transform="translate(-65.7,0.5) rotate(-90.4)"/><use href="#bp" transform="translate(-48.0,-47.0) rotate(-45.6)"/><use href="#bp" transform="translate(1.0,66.4) rotate(-180.9)"/><use href="#yc"/></g><g transform="translate(238.2,2512.3)"><use href="#gp" transform="translate(-42.0,-42.7) rotate(-44.5)"/><use href="#gp" transform="translate(35.5,-40.0) rotate(41.6)"/><use href="#gp" transform="translate(-57.7,-1.3) rotate(-88.7)"/><use href="#gp" transform="translate(-42.0,40.0) rotate(-133.6)"/><use href="#yc"/></g><g transform="translate(403.1,2512.3)"><use href="#bp" transform="translate(45.0,-48.0) rotate(43.2)"/><use href="#bp" transform="translate(68.0,0.0) rotate(90.0)"/><use href="#bp" transform="translate(46.6,48.0) rotate(-224.2)"/><use href="#bp" transform="translate(-48.0,48.0) rotate(-135.0)"/><use href="#yc"/></g><g transform="translate(238.2,2830)"><use href="#gp" transform="translate(-42.0,-42.7) rotate(-44.5)"/><use href="#gp" transform="translate(35.5,-40.0) rotate(41.6)"/><use href="#gp" transform="translate(-57.7,-1.3) rotate(-88.7)"/><use href="#gp" transform="translate(-42.0,40.0) rotate(-133.6)"/><use href="#yc"/></g><g transform="translate(403.1,2830)"><use href="#bp" transform="translate(45.0,-48.0) rotate(43.2)"/><use href="#bp" transform="translate(68.0,0.0) rotate(90.0)"/><use href="#bp" transform="translate(46.6,48.0) rotate(-224.2)"/><use href="#bp" transform="translate(-48.0,48.0) rotate(-135.0)"/><use href="#yc"/></g><g transform="translate(238.2,3446)"><use href="#gp" transform="translate(-42.0,-42.7) rotate(-44.5)"/><use href="#gp" transform="translate(35.5,-40.0) rotate(41.6)"/><use href="#gp" transform="translate(-57.7,-1.3) rotate(-88.7)"/><use href="#gp" transform="translate(-42.0,40.0) rotate(-133.6)"/><use href="#yc"/></g><g transform="translate(403.1,3446)"><use href="#bp" transform="translate(45.0,-48.0) rotate(43.2)"/><use href="#bp" transform="translate(68.0,0.0) rotate(90.0)"/><use href="#bp" transform="translate(46.6,48.0) rotate(-224.2)"/><use href="#bp" transform="translate(-48.0,48.0) rotate(-135.0)"/><use href="#yc"/></g></svg>
<div class="b" style="left:2183.5px;top:2006px;width:1274.5px;height:110.7px;background:#FFCC00;border-top:2.5px solid #111;border-bottom:2.5px solid #111;"></div>
<div class="t" id="t203" style="left:2186.5px;top:2015.45px;font-size:42px;line-height:42px;color:#000;font-weight:bold;transform:scaleX(1.1700);transform-origin:0 0;">Summary of</div>
<div class="b" style="left:2484px;top:2017.5px;width:365.7px;height:37.5px;background:#C0C0FA;"></div>
<div class="t" id="t204" style="left:2849.7px;top:2015.45px;font-size:42px;line-height:42px;color:#000;font-weight:bold;transform:scaleX(1.2502);transform-origin:0 0;">&#x27;s (Owner/Breadwinner)</div>
<div class="t" id="t205" style="left:2186.5px;top:2068.45px;font-size:42px;line-height:42px;color:#000;font-weight:bold;transform:scaleX(1.1623);transform-origin:0 0;">Eight House Chart.</div>
<div class="b" style="left:2188.8px;top:2142px;width:1161.5px;height:52px;background:#000080;"></div>
<div class="b" style="left:2188.8px;top:2194px;width:1161.5px;height:791px;background:#E0E0F0;"></div>
<div class="t" id="t206" style="left:2200px;top:2153.41px;font-size:30px;line-height:30px;color:#fff;font-weight:bold;transform:scaleX(1.0859);transform-origin:0 0;">Direction</div>
<div class="t" id="t207" style="left:2365.3px;top:2153.41px;font-size:30px;line-height:30px;color:#fff;font-weight:bold;transform:scaleX(1.0640);transform-origin:0 0;">Location</div>
<div class="t" id="t208" style="left:2551.5px;top:2153.41px;font-size:30px;line-height:30px;color:#fff;font-weight:bold;transform:scaleX(1.0907);transform-origin:0 0;">Status</div>
<div class="t" id="t209" style="left:2990px;top:2153.41px;font-size:30px;line-height:30px;color:#fff;font-weight:bold;transform:scaleX(1.1193);transform-origin:0 0;">suitable for</div>
<div class="t" id="t210" style="left:2200px;top:2224.61px;font-size:30px;line-height:30px;color:#1e1e1e;transform:scaleX(1.0629);transform-origin:0 0;">North-</div>
<div class="t" id="t211" style="left:2200px;top:2257.61px;font-size:30px;line-height:30px;color:#1e1e1e;transform:scaleX(0.9735);transform-origin:0 0;">West</div>
<div class="t" id="t212" style="left:2365.3px;top:2241.3px;font-size:30px;line-height:30px;color:#1e1e1e;transform:scaleX(1.1349);transform-origin:0 0;">Irritation</div>
<div class="t" id="t213" style="left:2551.5px;top:2207.51px;font-size:30px;line-height:30px;color:#1e1e1e;transform:scaleX(1.0477);transform-origin:0 0;">Bad: Petty annoyances,</div>
<div class="t" id="t214" style="left:2551.5px;top:2240.51px;font-size:30px;line-height:30px;color:#1e1e1e;transform:scaleX(1.0543);transform-origin:0 0;">disease, headaches, theft</div>
<div class="t" id="t215" style="left:2551.5px;top:2274.3px;font-size:30px;line-height:30px;color:#1e1e1e;transform:scaleX(1.0949);transform-origin:0 0;">and infidelity.</div>
<div class="t" id="t216" style="left:2990px;top:2241.3px;font-size:30px;line-height:30px;color:#1e1e1e;transform:scaleX(1.0840);transform-origin:0 0;">Toilet or kitchen.</div>
<div class="t" id="t217" style="left:2200px;top:2343.41px;font-size:30px;line-height:30px;color:#0000FF;font-weight:bold;transform:scaleX(1.1077);transform-origin:0 0;">North</div>
<div class="t" id="t218" style="left:2365.3px;top:2343.41px;font-size:30px;line-height:30px;color:#0000FF;font-weight:bold;transform:scaleX(1.0832);transform-origin:0 0;">Excellent</div>
<div class="t" id="t219" style="left:2551.5px;top:2327.61px;font-size:30px;line-height:30px;color:#0000FF;font-weight:bold;transform:scaleX(1.0979);transform-origin:0 0;">Very Good: Prime</div>
<div class="t" id="t220" style="left:2551.5px;top:2361.41px;font-size:30px;line-height:30px;color:#0000FF;font-weight:bold;transform:scaleX(1.1149);transform-origin:0 0;">Location, ideal for vitality</div>
<div class="t" id="t221" style="left:2990px;top:2327.61px;font-size:30px;line-height:30px;color:#1e1e1e;transform:scaleX(1.0525);transform-origin:0 0;">Front door, beds and</div>
<div class="t" id="t222" style="left:2990px;top:2361.41px;font-size:30px;line-height:30px;color:#1e1e1e;transform:scaleX(1.0720);transform-origin:0 0;">religious altars.</div>
<div class="t" id="t223" style="left:2200px;top:2414.01px;font-size:30px;line-height:30px;color:#1e1e1e;transform:scaleX(1.0629);transform-origin:0 0;">North-</div>
<div class="t" id="t224" style="left:2200px;top:2447.11px;font-size:30px;line-height:30px;color:#1e1e1e;transform:scaleX(0.9762);transform-origin:0 0;">East</div>
<div class="t" id="t225" style="left:2365.3px;top:2430.61px;font-size:30px;line-height:30px;color:#1e1e1e;transform:scaleX(1.0155);transform-origin:0 0;">Spook</div>
<div class="t" id="t226" style="left:2551.5px;top:2414.01px;font-size:30px;line-height:30px;color:#1e1e1e;transform:scaleX(1.0799);transform-origin:0 0;">Bad: Uneasy, theft, robbery</div>
<div class="t" id="t227" style="left:2551.5px;top:2447.11px;font-size:30px;line-height:30px;color:#1e1e1e;transform:scaleX(1.0550);transform-origin:0 0;">and financial loss.</div>
<div class="t" id="t228" style="left:2990px;top:2430.61px;font-size:30px;line-height:30px;color:#1e1e1e;transform:scaleX(1.0893);transform-origin:0 0;">Storeroom or toilet.</div>
<div class="t" id="t229" style="left:2200px;top:2516.91px;font-size:30px;line-height:30px;color:#1e1e1e;transform:scaleX(0.9735);transform-origin:0 0;">West</div>
<div class="t" id="t230" style="left:2365.3px;top:2516.91px;font-size:30px;line-height:30px;color:#1e1e1e;transform:scaleX(1.0306);transform-origin:0 0;">Disaster</div>
<div class="t" id="t231" style="left:2551.5px;top:2500.41px;font-size:30px;line-height:30px;color:#1e1e1e;transform:scaleX(1.0824);transform-origin:0 0;">Bad: Quarrels, frustration,</div>
<div class="t" id="t232" style="left:2551.5px;top:2533.41px;font-size:30px;line-height:30px;color:#1e1e1e;transform:scaleX(1.0599);transform-origin:0 0;">disputes and legal problems.</div>
<div class="t" id="t233" style="left:2990px;top:2516.91px;font-size:30px;line-height:30px;color:#1e1e1e;transform:scaleX(1.0893);transform-origin:0 0;">Storeroom or toilet.</div>
<div class="t" id="t234" style="left:2200px;top:2619.61px;font-size:30px;line-height:30px;color:#0000FF;font-weight:bold;transform:scaleX(1.0414);transform-origin:0 0;">East</div>
<div class="t" id="t235" style="left:2365.3px;top:2619.61px;font-size:30px;line-height:30px;color:#0000FF;font-weight:bold;transform:scaleX(1.1059);transform-origin:0 0;">Health</div>
<div class="t" id="t236" style="left:2551.5px;top:2603.3px;font-size:30px;line-height:30px;color:#0000FF;font-weight:bold;transform:scaleX(1.1201);transform-origin:0 0;">Good: Ideal situation for</div>
<div class="t" id="t237" style="left:2551.5px;top:2636.3px;font-size:30px;line-height:30px;color:#0000FF;font-weight:bold;transform:scaleX(1.1032);transform-origin:0 0;">speedy recovery.</div>
<div class="t" id="t238" style="left:2990px;top:2586.61px;font-size:30px;line-height:30px;color:#1e1e1e;transform:scaleX(1.0631);transform-origin:0 0;">Beds, doors, master</div>
<div class="t" id="t239" style="left:2990px;top:2619.61px;font-size:30px;line-height:30px;color:#1e1e1e;transform:scaleX(1.0722);transform-origin:0 0;">bedroom and the dining</div>
<div class="t" id="t240" style="left:2990px;top:2653.61px;font-size:30px;line-height:30px;color:#1e1e1e;transform:scaleX(1.0751);transform-origin:0 0;">table.</div>
<div class="t" id="t241" style="left:2200px;top:2706.61px;font-size:30px;line-height:30px;color:#1e1e1e;transform:scaleX(1.0454);transform-origin:0 0;">South-</div>
<div class="t" id="t242" style="left:2200px;top:2739.61px;font-size:30px;line-height:30px;color:#1e1e1e;transform:scaleX(0.9735);transform-origin:0 0;">West</div>
<div class="t" id="t243" style="left:2365.3px;top:2723.51px;font-size:30px;line-height:30px;color:#1e1e1e;transform:scaleX(1.0117);transform-origin:0 0;">Death</div>
<div class="t" id="t244" style="left:2551.5px;top:2706.61px;font-size:30px;line-height:30px;color:#1e1e1e;transform:scaleX(1.0588);transform-origin:0 0;">Bad: Poor health, accidents,</div>
<div class="t" id="t245" style="left:2551.5px;top:2739.61px;font-size:30px;line-height:30px;color:#1e1e1e;transform:scaleX(1.0690);transform-origin:0 0;">misfortune and loss.</div>
<div class="t" id="t246" style="left:2990px;top:2723.51px;font-size:30px;line-height:30px;color:#1e1e1e;transform:scaleX(1.0893);transform-origin:0 0;">Storeroom or toilet.</div>
<div class="t" id="t247" style="left:2200px;top:2809.61px;font-size:30px;line-height:30px;color:#0000FF;font-weight:bold;transform:scaleX(1.0590);transform-origin:0 0;">South</div>
<div class="t" id="t248" style="left:2365.3px;top:2809.61px;font-size:30px;line-height:30px;color:#0000FF;font-weight:bold;transform:scaleX(1.0869);transform-origin:0 0;">Longevity</div>
<div class="t" id="t249" style="left:2551.5px;top:2809.61px;font-size:30px;line-height:30px;color:#0000FF;font-weight:bold;transform:scaleX(1.1205);transform-origin:0 0;">Good: Ideal for health.</div>
<div class="t" id="t250" style="left:2990px;top:2793.3px;font-size:30px;line-height:30px;color:#1e1e1e;transform:scaleX(1.0439);transform-origin:0 0;">Beds, bedrooms and</div>
<div class="t" id="t251" style="left:2990px;top:2826.3px;font-size:30px;line-height:30px;color:#1e1e1e;transform:scaleX(1.0816);transform-origin:0 0;">dining table.</div>
<div class="t" id="t252" style="left:2200px;top:2896.2px;font-size:30px;line-height:30px;color:#0000FF;font-weight:bold;transform:scaleX(1.0909);transform-origin:0 0;">South-</div>
<div class="t" id="t253" style="left:2200px;top:2930.01px;font-size:30px;line-height:30px;color:#0000FF;font-weight:bold;transform:scaleX(1.0414);transform-origin:0 0;">East</div>
<div class="t" id="t254" style="left:2365.3px;top:2912.61px;font-size:30px;line-height:30px;color:#0000FF;font-weight:bold;transform:scaleX(1.0931);transform-origin:0 0;">Prosperity</div>
<div class="t" id="t255" style="left:2551.5px;top:2879.61px;font-size:30px;line-height:30px;color:#0000FF;font-weight:bold;transform:scaleX(1.0788);transform-origin:0 0;">Good: The Best location.</div>
<div class="t" id="t256" style="left:2551.5px;top:2912.61px;font-size:30px;line-height:30px;color:#0000FF;font-weight:bold;transform:scaleX(1.0842);transform-origin:0 0;">Money luck and</div>
<div class="t" id="t257" style="left:2551.5px;top:2946.61px;font-size:30px;line-height:30px;color:#0000FF;font-weight:bold;transform:scaleX(1.1025);transform-origin:0 0;">promotion.</div>
<div class="t" id="t258" style="left:2990px;top:2879.61px;font-size:30px;line-height:30px;color:#1e1e1e;transform:scaleX(1.0633);transform-origin:0 0;">door, room doors,</div>
<div class="t" id="t259" style="left:2990px;top:2912.61px;font-size:30px;line-height:30px;color:#1e1e1e;transform:scaleX(1.0586);transform-origin:0 0;">kitchen door, beds,</div>
<div class="t" id="t260" style="left:2990px;top:2946.61px;font-size:30px;line-height:30px;color:#1e1e1e;transform:scaleX(1.0599);transform-origin:0 0;">working desks.</div>
<div class="t" id="t261" style="left:3355px;top:2221.14px;font-size:27px;line-height:27px;color:#0000FF;font-weight:bold;transform:scaleX(0.9933);transform-origin:0 0;">Partial Kitchen</div>
<div class="t" id="t262" style="left:3355px;top:2252.14px;font-size:27px;line-height:27px;color:#0000FF;font-weight:bold;transform:scaleX(0.9842);transform-origin:0 0;">A/C Ledge</div>
<div class="t" id="t263" style="left:3358px;top:2326.44px;font-size:27px;line-height:27px;color:#0000FF;font-weight:bold;transform:scaleX(0.9891);transform-origin:0 0;">Stove @ North</div>
<div class="t" id="t264" style="left:3355px;top:2422.54px;font-size:27px;line-height:27px;color:#FF0000;font-weight:bold;transform:scaleX(0.9902);transform-origin:0 0;">Main Door</div>
<div class="t" id="t265" style="left:3355px;top:2493.94px;font-size:27px;line-height:27px;color:#0000FF;font-weight:bold;transform:scaleX(0.9856);transform-origin:0 0;">Bedroom 3</div>
<div class="t" id="t266" style="left:3355px;top:2525.44px;font-size:27px;line-height:27px;color:#0000FF;font-weight:bold;transform:scaleX(0.9842);transform-origin:0 0;">suits Mum</div>
<div class="t" id="t267" style="left:3356.6px;top:2599.14px;font-size:27px;line-height:27px;color:#0000FF;font-weight:bold;transform:scaleX(0.9920);transform-origin:0 0;">Living Room</div>
<div class="t" id="t268" style="left:3362.6px;top:2704.14px;font-size:27px;line-height:27px;color:#0000FF;font-weight:bold;transform:scaleX(0.9856);transform-origin:0 0;">Bedroom 2</div>
<div class="t" id="t269" style="left:3362.6px;top:2735.74px;font-size:27px;line-height:27px;color:#0000FF;font-weight:bold;transform:scaleX(0.9842);transform-origin:0 0;">suits Mum</div>
<div class="t" id="t270" style="left:3365.6px;top:2807.84px;font-size:27px;line-height:27px;color:#0000FF;font-weight:bold;">Master Bedroom</div>
<div class="t" id="t271" style="left:3364px;top:2888.14px;font-size:27px;line-height:27px;color:#0000FF;font-weight:bold;transform:scaleX(0.9878);transform-origin:0 0;">Living Room</div>
<div class="t" id="t272" style="left:3364px;top:2918.14px;font-size:27px;line-height:27px;color:#0000FF;font-weight:bold;transform:scaleX(0.9886);transform-origin:0 0;">Frontage</div>
<div class="t" id="t273" style="left:3219.8px;top:3006.56px;font-size:46px;line-height:46px;color:#000;font-weight:bold;transform:scaleX(1.0726);transform-origin:0 0;">Total</div>
<div class="t" id="t274" style="left:3357px;top:3009.37px;font-size:48px;line-height:48px;color:#0000FF;font-weight:bold;transform:scaleX(0.9681);transform-origin:0 0;">= 87.5%</div>
<div class="t" id="t275" style="left:2224px;top:3066.37px;font-size:63px;line-height:63px;color:#000;font-weight:bold;transform:scaleX(1.0277);transform-origin:0 0;">This weightage is more important:-</div>
<div class="b" style="left:2693px;top:3155.6px;width:449.4px;height:142.1px;background:#fff;border:6.5px solid #000;"></div>
<svg class="b" style="left:2777px;top:3174px;transform:scale(1,1.04);transform-origin:0 0;" width="290" height="72" viewBox="0 0 290 72"><path transform="translate(0.0,0)" d="M9 5 V69 M9 6 H23 L15 22 Q26 30 23 40 Q21 46 13 44 M33 8 V66 M33 8 H62 V66 M33 36 H62 M33 64 H62" fill="none" stroke="#000" stroke-width="6.2" stroke-linecap="square"/><path transform="translate(71.5,0)" d="M35 1 L38 9 M8 23 V14 H62 V23 M52 25 Q36 31 17 34 M8 47 H62 M35 29 V60 Q35 67 44 67 H63 V58" fill="none" stroke="#000" stroke-width="6.2" stroke-linecap="square"/><path transform="translate(143.0,0)" d="M14 12 H56 M18 37 H52 M5 64 H65" fill="none" stroke="#000" stroke-width="6.2" stroke-linecap="square"/><path transform="translate(214.5,0)" d="M5 6 H65 M13 16 V33 H57 V16 Z M28 6 V33 M42 6 V33 M5 47 H65 M30 37 Q26 50 18 58 Q42 62 58 70 M50 47 Q44 64 12 70" fill="none" stroke="#000" stroke-width="6.2" stroke-linecap="square"/></svg>
<div class="t" id="t276" style="left:2825px;top:3259.18px;font-size:22px;line-height:22px;color:#8a8a8a;transform:scaleX(1.0863);transform-origin:0 0;">Yángzhái sān yào</div>
<div class="t" id="t277" style="left:2690.5px;top:3317.28px;font-size:24px;line-height:24px;color:#000;font-weight:bold;transform:scaleX(1.1431);transform-origin:0 0;">The Three (3) Major Considerations:</div>
<div class="b" style="left:2507px;top:3379.3px;width:52px;height:64.4px;background:#1CD4F8;"></div>
<div class="b" style="left:2568.7px;top:3379.3px;width:263.3px;height:64.4px;background:#1CD4F8;"></div>
<div class="b" style="left:2507px;top:3459px;width:52px;height:64px;background:#C8F0C8;"></div>
<div class="b" style="left:2568.7px;top:3459px;width:263.3px;height:64px;background:#C8F0C8;"></div>
<div class="b" style="left:2507px;top:3537.8px;width:52px;height:64.2px;background:#FFFF00;"></div>
<div class="b" style="left:2568.7px;top:3537.8px;width:263.3px;height:64.2px;background:#FFFF00;"></div>
<div class="t" id="t278" style="left:2520.6px;top:3383.25px;font-size:57px;line-height:57px;color:#000;font-weight:bold;transform:scaleX(0.7886);transform-origin:0 0;">1</div>
<div class="t" id="t279" style="left:2516.5px;top:3466.55px;font-size:57px;line-height:57px;color:#000;font-weight:bold;transform:scaleX(0.9778);transform-origin:0 0;">2</div>
<div class="t" id="t280" style="left:2518.6px;top:3542.45px;font-size:57px;line-height:57px;color:#000;font-weight:bold;transform:scaleX(0.9147);transform-origin:0 0;">3</div>
<div class="t" id="t281" style="left:2597.8px;top:3395.07px;font-size:35px;line-height:35px;color:#000;transform:scaleX(1.0774);transform-origin:0 0;-webkit-text-stroke:0.8px #000;">FRONTAGE</div>
<div class="t" id="t282" style="left:2598px;top:3472.97px;font-size:35px;line-height:35px;color:#000;transform:scaleX(1.0936);transform-origin:0 0;-webkit-text-stroke:0.8px #000;">KITCHEN</div>
<div class="t" id="t283" style="left:2597.8px;top:3554.14px;font-size:27px;line-height:27px;color:#000;font-weight:bold;transform:scaleX(0.9894);transform-origin:0 0;">MAIN BEDROOM</div>
<div class="t" id="t284" style="left:2850.5px;top:3395.3px;font-size:28px;line-height:28px;color:#0000FF;font-weight:bold;transform:scaleX(0.9556);transform-origin:0 0;">South = Auspicious</div>
<div class="t" id="t285" style="left:2855px;top:3469.3px;font-size:28px;line-height:28px;color:#0000FF;font-weight:bold;transform:scaleX(0.9554);transform-origin:0 0;">North = Auspicious</div>
<div class="t" id="t286" style="left:2844.5px;top:3553.3px;font-size:28px;line-height:28px;color:#0000FF;font-weight:bold;transform:scaleX(0.9548);transform-origin:0 0;">South = Auspicious</div>
<svg class="b" style="left:3150px;top:3340px;" width="440" height="300" viewBox="0 0 440 300"><polyline points="10.8,67.8 56,67.8 56,233.7 10.8,233.7" fill="none" stroke="#0000FF" stroke-width="4.5"/><rect x="69.8" y="141" width="23.7" height="5" fill="#0000FF"/><rect x="69.8" y="156" width="23.7" height="5" fill="#0000FF"/><polygon points="210.7,18.3 286.6,80.0 364.5,46.0 349.0,157.2 423.4,218.8 269.6,218.8 215.4,282.5 183.6,225.6 115.9,283.2 120.6,201.2 91.5,195.0 132.0,135.5 82.0,54.2 144.3,80.0" fill="#fff" stroke="#0000FF" stroke-width="4.5" stroke-linejoin="miter"/></svg>
<div class="t" id="t287" style="left:3316px;top:3461.21px;font-size:47px;line-height:47px;color:#0000FF;font-weight:bold;transform:scaleX(0.9865);transform-origin:0 0;">100%</div>
<div class="t" id="t288" style="left:2459.6px;top:3633.42px;font-size:92px;line-height:92px;color:#0000FF;font-weight:bold;transform:scaleX(1.0257);transform-origin:0 0;">BEST FIT FOR MR</div>
<div class="b" style="left:3299.7px;top:3641.5px;width:241.9px;height:86px;background:#C0C0FA;"></div>
<svg class="b" style="left:1050px;top:2380px;z-index:2" width="600" height="600" viewBox="0 0 1904 1904"><polygon points="858,1000 877,985 1140,1745 1080,1762 900,1785 866,1790" fill="#F9D8D8"/><polygon points="877,985 1200,1310 1168,1342 1232,1722 1140,1748" fill="#FFFF00"/><g transform="rotate(-9.6 858 960)" stroke="#111" stroke-width="6.5" fill="none" stroke-linecap="square"><polyline points="613,690 613,619 724,623 723,151 1651,151" stroke-width="3.5"/><line x1="1651" y1="151" x2="1655" y2="420" stroke-width="3.5"/><line x1="1655" y1="420" x2="1660" y2="1340" stroke-width="3.5" stroke-dasharray="90 40"/><line x1="1437" y1="1443" x2="1660" y2="1425" stroke-width="3"/><line x1="789" y1="212" x2="1590" y2="212"/><line x1="789" y1="232" x2="1590" y2="232"/><line x1="789" y1="212" x2="789" y2="232"/><line x1="1590" y1="212" x2="1590" y2="232"/><rect x="880" y="222" width="300" height="10" fill="#111" stroke="none"/><rect x="1250" y="222" width="300" height="10" fill="#111" stroke="none"/><rect x="860" y="196" width="140" height="16"/><rect x="1290" y="196" width="160" height="16"/><line x1="789" y1="212" x2="789" y2="753"/><line x1="807" y1="212" x2="807" y2="753"/><line x1="789" y1="212" x2="807" y2="212"/><line x1="789" y1="753" x2="807" y2="753"/><line x1="1212" y1="232" x2="1212" y2="745"/><line x1="1230" y1="232" x2="1230" y2="745"/><line x1="1212" y1="232" x2="1230" y2="232"/><line x1="1212" y1="745" x2="1230" y2="745"/><rect x="1150" y="560" width="62" height="190"/><line x1="1572" y1="212" x2="1572" y2="1432"/><line x1="1590" y1="212" x2="1590" y2="1432"/><line x1="1572" y1="212" x2="1590" y2="212"/><line x1="1572" y1="1432" x2="1590" y2="1432"/><line x1="789" y1="733" x2="1010" y2="733"/><line x1="789" y1="753" x2="1010" y2="753"/><line x1="789" y1="733" x2="789" y2="753"/><line x1="1010" y1="733" x2="1010" y2="753"/><line x1="1370" y1="590" x2="1590" y2="590"/><line x1="1370" y1="608" x2="1590" y2="608"/><line x1="1370" y1="590" x2="1370" y2="608"/><line x1="1590" y1="590" x2="1590" y2="608"/><line x1="1367" y1="600" x2="1367" y2="860"/><line x1="1381" y1="600" x2="1381" y2="860"/><line x1="1367" y1="600" x2="1381" y2="600"/><line x1="1367" y1="860" x2="1381" y2="860"/><line x1="1367" y1="844" x2="1590" y2="844"/><line x1="1367" y1="860" x2="1590" y2="860"/><line x1="1367" y1="844" x2="1367" y2="860"/><line x1="1590" y1="844" x2="1590" y2="860"/><line x1="1234" y1="955" x2="1590" y2="955"/><line x1="1234" y1="970" x2="1590" y2="970"/><line x1="1234" y1="955" x2="1234" y2="970"/><line x1="1590" y1="955" x2="1590" y2="970"/><line x1="1234" y1="1417" x2="1600" y2="1417"/><line x1="1234" y1="1432" x2="1600" y2="1432"/><line x1="1234" y1="1417" x2="1234" y2="1432"/><line x1="1600" y1="1417" x2="1600" y2="1432"/><line x1="111" y1="682" x2="676" y2="682"/><line x1="111" y1="700" x2="676" y2="700"/><line x1="111" y1="682" x2="111" y2="700"/><line x1="676" y1="682" x2="676" y2="700"/><rect x="200" y="690" width="400" height="10" fill="#111" stroke="none"/><rect x="160" y="664" width="90" height="18"/><rect x="560" y="630" width="55" height="52"/><line x1="111" y1="682" x2="111" y2="1555"/><line x1="130" y1="682" x2="130" y2="1555"/><line x1="111" y1="682" x2="130" y2="682"/><line x1="111" y1="1555" x2="130" y2="1555"/><rect x="111" y="682" width="19" height="873" fill="#111" stroke="none"/><line x1="111" y1="1540" x2="320" y2="1540"/><line x1="111" y1="1555" x2="320" y2="1555"/><line x1="111" y1="1540" x2="111" y2="1555"/><line x1="320" y1="1540" x2="320" y2="1555"/><line x1="676" y1="726" x2="1013" y2="726"/><line x1="676" y1="740" x2="1013" y2="740"/><line x1="676" y1="726" x2="676" y2="740"/><line x1="1013" y1="726" x2="1013" y2="740"/><line x1="676" y1="960" x2="1013" y2="960"/><line x1="676" y1="975" x2="1013" y2="975"/><line x1="676" y1="960" x2="676" y2="975"/><line x1="1013" y1="960" x2="1013" y2="975"/><line x1="676" y1="700" x2="676" y2="975"/><line x1="690" y1="700" x2="690" y2="975"/><line x1="676" y1="700" x2="690" y2="700"/><line x1="676" y1="975" x2="690" y2="975"/><line x1="1000" y1="726" x2="1000" y2="975"/><line x1="1013" y1="726" x2="1013" y2="975"/><line x1="1000" y1="726" x2="1013" y2="726"/><line x1="1000" y1="975" x2="1013" y2="975"/><line x1="798" y1="1320" x2="950" y2="1320"/><line x1="798" y1="1335" x2="950" y2="1335"/><line x1="798" y1="1320" x2="798" y2="1335"/><line x1="950" y1="1320" x2="950" y2="1335"/><line x1="1040" y1="1320" x2="1121" y2="1320"/><line x1="1040" y1="1335" x2="1121" y2="1335"/><line x1="1040" y1="1320" x2="1040" y2="1335"/><line x1="1121" y1="1320" x2="1121" y2="1335"/><line x1="730" y1="1778" x2="1122" y2="1778"/><line x1="730" y1="1792" x2="1122" y2="1792"/><line x1="730" y1="1778" x2="730" y2="1792"/><line x1="1122" y1="1778" x2="1122" y2="1792"/><line x1="315" y1="1240" x2="798" y2="1240"/><line x1="315" y1="1255" x2="798" y2="1255"/><line x1="315" y1="1240" x2="315" y2="1255"/><line x1="798" y1="1240" x2="798" y2="1255"/><line x1="311" y1="1440" x2="798" y2="1440"/><line x1="311" y1="1452" x2="798" y2="1452"/><line x1="311" y1="1440" x2="311" y2="1452"/><line x1="798" y1="1440" x2="798" y2="1452"/><line x1="311" y1="1672" x2="520" y2="1672"/><line x1="311" y1="1686" x2="520" y2="1686"/><line x1="311" y1="1672" x2="311" y2="1686"/><line x1="520" y1="1672" x2="520" y2="1686"/><line x1="1121" y1="1388" x2="1437" y2="1388"/><line x1="1121" y1="1400" x2="1437" y2="1400"/><line x1="1121" y1="1388" x2="1121" y2="1400"/><line x1="1437" y1="1388" x2="1437" y2="1400"/><line x1="1121" y1="1530" x2="1437" y2="1530"/><line x1="1121" y1="1544" x2="1437" y2="1544"/><line x1="1121" y1="1530" x2="1121" y2="1544"/><line x1="1437" y1="1530" x2="1437" y2="1544"/><line x1="1234" y1="955" x2="1234" y2="1432"/><line x1="1248" y1="955" x2="1248" y2="1432"/><line x1="1234" y1="955" x2="1248" y2="955"/><line x1="1234" y1="1432" x2="1248" y2="1432"/><line x1="798" y1="1243" x2="798" y2="1792"/><line x1="812" y1="1243" x2="812" y2="1792"/><line x1="798" y1="1243" x2="812" y2="1243"/><line x1="798" y1="1792" x2="812" y2="1792"/><line x1="1108" y1="1320" x2="1108" y2="1792"/><line x1="1122" y1="1320" x2="1122" y2="1792"/><line x1="1108" y1="1320" x2="1122" y2="1320"/><line x1="1108" y1="1792" x2="1122" y2="1792"/><line x1="315" y1="1240" x2="315" y2="1686"/><line x1="329" y1="1240" x2="329" y2="1686"/><line x1="315" y1="1240" x2="329" y2="1240"/><line x1="315" y1="1686" x2="329" y2="1686"/><line x1="507" y1="1240" x2="507" y2="1686"/><line x1="520" y1="1240" x2="520" y2="1686"/><line x1="507" y1="1240" x2="520" y2="1240"/><line x1="507" y1="1686" x2="520" y2="1686"/><line x1="665" y1="1240" x2="665" y2="1452"/><line x1="679" y1="1240" x2="679" y2="1452"/><line x1="665" y1="1240" x2="679" y2="1240"/><line x1="665" y1="1452" x2="679" y2="1452"/><line x1="1425" y1="1388" x2="1425" y2="1544"/><line x1="1437" y1="1388" x2="1437" y2="1544"/><line x1="1425" y1="1388" x2="1437" y2="1388"/><line x1="1425" y1="1544" x2="1437" y2="1544"/><line x1="1590" y1="1380" x2="1590" y2="1440"/><line x1="1604" y1="1380" x2="1604" y2="1440"/><line x1="1590" y1="1380" x2="1604" y2="1380"/><line x1="1590" y1="1440" x2="1604" y2="1440"/><rect x="915" y="760" width="75" height="190" rx="30"/><ellipse cx="720" cy="790" rx="30" ry="22"/><ellipse cx="840" cy="930" rx="40" ry="22"/><rect x="700" y="830" width="40" height="100"/><circle cx="1520" cy="650" r="28"/><ellipse cx="1490" cy="770" rx="30" ry="24"/><rect x="1400" y="880" width="150" height="60"/><rect x="1040" y="1470" width="60" height="260"/><rect x="1048" y="1560" width="44" height="80" fill="#111"/><circle cx="1070" cy="1590" r="12" stroke="#fff"/><circle cx="1070" cy="1620" r="12" stroke="#fff"/><rect x="850" y="1700" width="160" height="78"/><circle cx="890" cy="1725" r="10"/><circle cx="925" cy="1725" r="10"/><circle cx="890" cy="1755" r="10"/><circle cx="925" cy="1755" r="10"/><rect x="820" y="1705" width="25" height="70"/><circle cx="380" cy="1520" r="36"/><rect x="335" y="1472" width="90" height="96"/><ellipse cx="590" cy="1300" rx="30" ry="22"/><ellipse cx="600" cy="1360" rx="28" ry="22"/><line x1="530" y1="1570" x2="720" y2="1570" stroke-width="3"/><line x1="530" y1="1590" x2="720" y2="1590" stroke-width="3"/><line x1="530" y1="1610" x2="720" y2="1610" stroke-width="3"/><line x1="530" y1="1630" x2="720" y2="1630" stroke-width="3"/><line x1="530" y1="1650" x2="720" y2="1650" stroke-width="3"/><line x1="530" y1="1670" x2="720" y2="1670" stroke-width="3"/><rect x="525" y="1560" width="200" height="125" stroke-width="3"/><path d="M1010 753 L1110 753 A100 100 0 0 1 1010 853" fill="none"/><path d="M1270 608 L1365 608 A95 95 0 0 1 1270 703" fill="none"/><path d="M1390 860 L1470 860 A80 80 0 0 1 1390 940" fill="none"/><path d="M1248 1030 L1248 930 A100 100 0 0 1 1348 1030" fill="none"/><path d="M150 1540 L150 1380 A160 160 0 0 1 310 1540" fill="none"/><path d="M520 1460 L600 1460 A80 80 0 0 1 520 1540" fill="none"/><path d="M680 1460 L760 1460 A80 80 0 0 1 680 1540" fill="none"/><path d="M812 1452 L812 1542 A90 90 0 0 1 722 1452" fill="none"/><path d="M812 1340 L902 1340 A90 90 0 0 1 812 1430" fill="none"/><path d="M700 975 L780 975 A80 80 0 0 1 700 1055" fill="none"/></g><g stroke="#333" stroke-width="2.5" fill="none"><line x1="220" y1="215" x2="297" y2="645"/><line x1="265" y1="210" x2="270" y2="700"/><polygon points="250,690 292,690 270,725"/></g><g font-family="Liberation Sans, sans-serif" fill="#111" stroke="#111" stroke-width="2.5"><text x="928" y="482" transform="rotate(170 928 482)" font-size="62" text-anchor="middle" dominant-baseline="central" textLength="195" lengthAdjust="spacingAndGlyphs">BEDROOM</text><text x="962" y="556" transform="rotate(170 962 556)" font-size="62" text-anchor="middle" dominant-baseline="central" textLength="150" lengthAdjust="spacingAndGlyphs">MASTER</text><text x="1312" y="415" transform="rotate(170 1312 415)" font-size="62" text-anchor="middle" dominant-baseline="central" textLength="255" lengthAdjust="spacingAndGlyphs">BEDROOM 2</text><text x="1422" y="628" transform="rotate(170 1422 628)" font-size="52" text-anchor="middle" dominant-baseline="central" textLength="150" lengthAdjust="spacingAndGlyphs">BATH 2</text><text x="480" y="1120" transform="rotate(170 480 1120)" font-size="60" text-anchor="middle" dominant-baseline="central" textLength="128" lengthAdjust="spacingAndGlyphs">LIVING</text><text x="382" y="1226" transform="rotate(170 382 1226)" font-size="100" text-anchor="middle" dominant-baseline="central" textLength="360" lengthAdjust="spacingAndGlyphs">TYPE A21</text><text x="1110" y="1188" transform="rotate(170 1110 1188)" font-size="60" text-anchor="middle" dominant-baseline="central" textLength="140" lengthAdjust="spacingAndGlyphs">DINING</text><text x="1418" y="1140" transform="rotate(170 1418 1140)" font-size="62" text-anchor="middle" dominant-baseline="central" textLength="250" lengthAdjust="spacingAndGlyphs">BEDROOM 3</text><text x="510" y="1425" transform="rotate(170 510 1425)" font-size="55" text-anchor="middle" dominant-baseline="central" textLength="128" lengthAdjust="spacingAndGlyphs">UTILITY</text><text x="676" y="1420" transform="rotate(170 676 1420)" font-size="55" text-anchor="middle" dominant-baseline="central" textLength="70" lengthAdjust="spacingAndGlyphs">WC</text><text x="830" y="1420" transform="rotate(170 830 1420)" font-size="55" text-anchor="middle" dominant-baseline="central" textLength="50" lengthAdjust="spacingAndGlyphs">ST</text><text x="1020" y="1610" transform="rotate(170 1020 1610)" font-size="60" text-anchor="middle" dominant-baseline="central" textLength="180" lengthAdjust="spacingAndGlyphs">KITCHEN</text><text x="1380" y="1422" transform="rotate(170 1380 1422)" font-size="45" text-anchor="middle" dominant-baseline="central" textLength="180" lengthAdjust="spacingAndGlyphs">A/C LEDGE</text><text x="548" y="1672" transform="rotate(170 548 1672)" font-size="50" text-anchor="middle" dominant-baseline="central" textLength="95" lengthAdjust="spacingAndGlyphs">YARD</text><text x="850" y="835" transform="rotate(100 850 835)" font-size="50" text-anchor="middle" dominant-baseline="central" textLength="100" lengthAdjust="spacingAndGlyphs">BATH</text><text x="705" y="1770" transform="rotate(170 705 1770)" font-size="32" text-anchor="middle" dominant-baseline="central" textLength="80" lengthAdjust="spacingAndGlyphs">AREA</text><text x="705" y="1805" transform="rotate(170 705 1805)" font-size="32" text-anchor="middle" dominant-baseline="central" textLength="110" lengthAdjust="spacingAndGlyphs">DRYING</text><text x="700" y="1840" transform="rotate(170 700 1840)" font-size="32" text-anchor="middle" dominant-baseline="central" textLength="125" lengthAdjust="spacingAndGlyphs">CLOTHES</text></g><g stroke="#FF0000" stroke-width="5.5"><line x1="858" y1="290" x2="858" y2="1720"/><line x1="175" y1="960" x2="1540" y2="960"/><line x1="220" y1="330" x2="1545" y2="1650"/><line x1="1495" y1="335" x2="175" y2="1650"/></g><g font-family="Liberation Sans, sans-serif" font-weight="bold" font-size="100" fill="#FF0000" text-anchor="middle"><text x="775" y="993">3</text><text x="860" y="998">7</text><text x="945" y="996">2</text></g></svg>
<div class="b" style="left:1802px;top:3408.3px;width:335.8px;height:125.5px;background:#31339A;"></div>
<svg class="b" style="left:1802px;top:3408.3px;" width="336" height="126" viewBox="0 0 336 126"><circle cx="41" cy="47" r="33" fill="none" stroke="#E07B10" stroke-width="9" stroke-dasharray="10 5"/><rect x="24" y="-2" width="26" height="14" fill="#A0522D"/><circle cx="41" cy="47" r="24" fill="#111"/><path d="M41 23 A24 24 0 0 0 41 71 A12 12 0 0 0 41 47 A12 12 0 0 1 41 23 Z" fill="#F5F0C8"/><circle cx="41" cy="35" r="4" fill="#F5F0C8"/><circle cx="41" cy="59" r="4" fill="#111"/><rect x="46" y="44" width="14" height="12" fill="#B06020"/><path transform="translate(100.0,10)" d="M4 4 V32 M4 4 H30 V34 M10 12 L24 26 M24 12 L10 26" fill="none" stroke="#FFF200" stroke-width="5" stroke-linecap="square"/><path transform="translate(136.5,10)" d="M18 2 V34 M4 12 L14 16 L4 30 M32 8 L22 18 L34 32" fill="none" stroke="#FFF200" stroke-width="5" stroke-linecap="square"/><path transform="translate(173.0,10)" d="M2 6 H14 M8 6 L4 30 M6 18 H14 V30 M18 6 H34 M22 6 V34 M30 6 V34 M18 18 H34" fill="none" stroke="#FFF200" stroke-width="5" stroke-linecap="square"/><path transform="translate(209.5,10)" d="M18 0 V5 M4 12 V6 H32 V12 M12 10 L8 18 M24 10 L28 18 M6 22 H30 M14 22 L6 34 M22 22 V32 H34" fill="none" stroke="#FFF200" stroke-width="5" stroke-linecap="square"/><path transform="translate(246.0,10)" d="M18 0 V36 M6 10 H30 V24 H6 Z" fill="none" stroke="#FFF200" stroke-width="5" stroke-linecap="square"/><path transform="translate(282.5,10)" d="M4 16 L8 28 M14 10 Q12 30 24 30 L30 24 M16 6 L20 12 M26 10 L34 22" fill="none" stroke="#FFF200" stroke-width="5" stroke-linecap="square"/></svg>
<div class="t" id="t289" style="left:1886px;top:3439.66px;font-size:56px;line-height:56px;color:#fff;font-weight:bold;transform:scale(0.6606,1.1800);transform-origin:0 0;">geomancy.net</div>
<div class="t" id="t290" style="left:1808.8px;top:3508.23px;font-size:16.5px;line-height:16.5px;color:#F5EE10;font-weight:bold;transform:scaleX(1.0554);transform-origin:0 0;">Center for Applied Feng Shui Research</div>
</body></html>
